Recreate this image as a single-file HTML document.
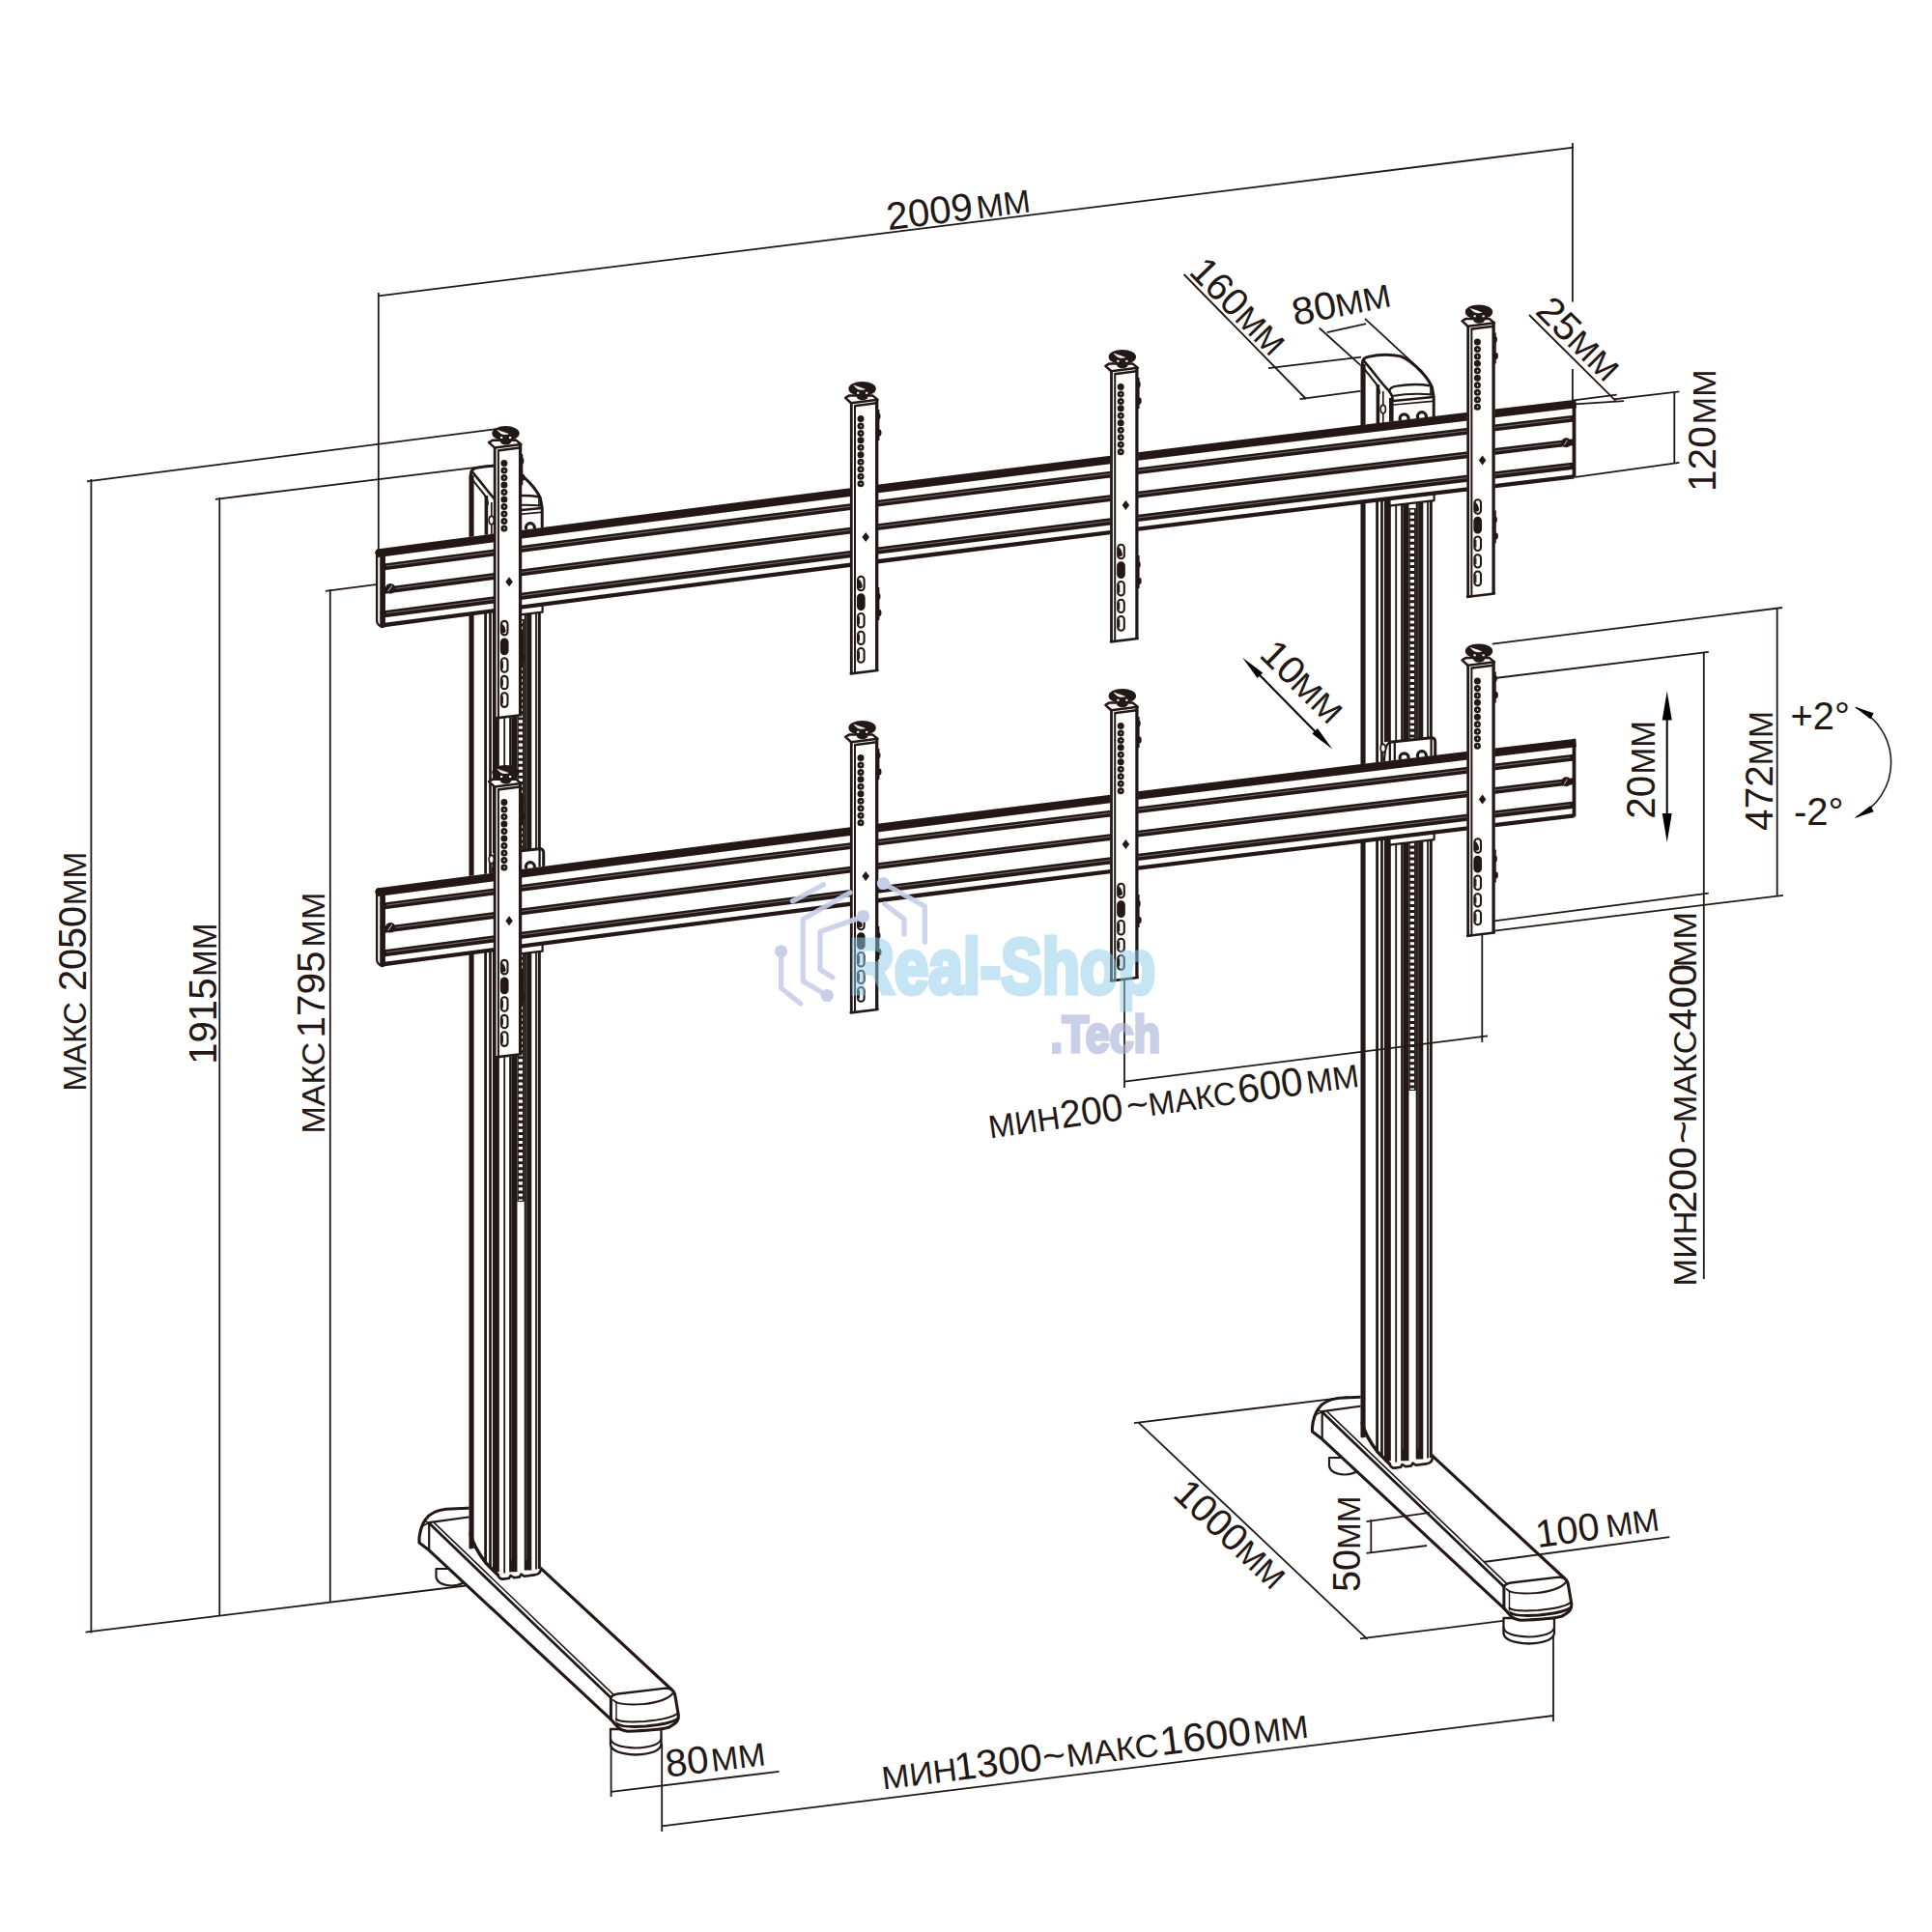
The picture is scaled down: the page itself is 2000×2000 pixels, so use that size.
<!DOCTYPE html>
<html><head><meta charset="utf-8"><title>Drawing</title>
<style>html,body{margin:0;padding:0;background:#fff}svg{display:block}</style></head>
<body>
<svg width="2000" height="2000" viewBox="0 0 2000 2000" font-family="'Liberation Sans', sans-serif">
<rect width="2000" height="2000" fill="#fff"/>
<g id="dims-back">
<line x1="391.8" y1="306.4" x2="1628.9" y2="152.7" stroke="#231815" stroke-width="1.8" stroke-linecap="butt"/>
<line x1="391.8" y1="303" x2="391.8" y2="568" stroke="#231815" stroke-width="1.8" stroke-linecap="butt"/>
<line x1="1627.9" y1="148" x2="1627.9" y2="312.5" stroke="#231815" stroke-width="1.8" stroke-linecap="butt"/>
<line x1="1627.9" y1="382" x2="1627.9" y2="416" stroke="#231815" stroke-width="1.8" stroke-linecap="butt"/>
<line x1="94.4" y1="496" x2="94.4" y2="1690.5" stroke="#231815" stroke-width="1.8" stroke-linecap="butt"/>
<line x1="227.3" y1="515" x2="227.3" y2="1673" stroke="#231815" stroke-width="1.8" stroke-linecap="butt"/>
<line x1="341.8" y1="610" x2="341.8" y2="1659" stroke="#231815" stroke-width="1.8" stroke-linecap="butt"/>
<line x1="90" y1="498.3" x2="514" y2="444.2" stroke="#231815" stroke-width="1.8" stroke-linecap="butt"/>
<line x1="223" y1="516.8" x2="505" y2="482.3" stroke="#231815" stroke-width="1.8" stroke-linecap="butt"/>
<line x1="337" y1="611.9" x2="391" y2="604.9" stroke="#231815" stroke-width="1.8" stroke-linecap="butt"/>
<line x1="88.5" y1="1689.7" x2="482" y2="1641.5" stroke="#231815" stroke-width="1.8" stroke-linecap="butt"/>
<line x1="1225.6" y1="284" x2="1352" y2="413" stroke="#231815" stroke-width="1.8" stroke-linecap="butt"/>
<line x1="1313" y1="381.2" x2="1409" y2="369.6" stroke="#231815" stroke-width="1.8" stroke-linecap="butt"/>
<line x1="1345.5" y1="413.2" x2="1425" y2="402.7" stroke="#231815" stroke-width="1.8" stroke-linecap="butt"/>
<line x1="1373.7" y1="344.1" x2="1414.1" y2="335.2" stroke="#231815" stroke-width="1.8" stroke-linecap="butt"/>
<line x1="1365.7" y1="339.5" x2="1411" y2="380.3" stroke="#231815" stroke-width="1.8" stroke-linecap="butt"/>
<line x1="1583" y1="326" x2="1672.5" y2="414.8" stroke="#231815" stroke-width="1.8" stroke-linecap="butt"/>
<line x1="1629" y1="414.3" x2="1673.7" y2="408.6" stroke="#231815" stroke-width="1.8" stroke-linecap="butt"/>
<line x1="1630" y1="418.3" x2="1681" y2="415.2" stroke="#231815" stroke-width="1.8" stroke-linecap="butt"/>
<line x1="1670" y1="413.4" x2="1738.5" y2="405.4" stroke="#231815" stroke-width="1.8" stroke-linecap="butt"/>
<line x1="1631" y1="493.8" x2="1738.5" y2="478.8" stroke="#231815" stroke-width="1.8" stroke-linecap="butt"/>
<line x1="1733.3" y1="406" x2="1733.3" y2="479.6" stroke="#231815" stroke-width="1.8" stroke-linecap="butt"/>
<line x1="1544.7" y1="666.7" x2="1845" y2="629" stroke="#231815" stroke-width="1.8" stroke-linecap="butt"/>
<line x1="1546.7" y1="963.7" x2="1846" y2="926.8" stroke="#231815" stroke-width="1.8" stroke-linecap="butt"/>
<line x1="1839.7" y1="629.5" x2="1839.7" y2="927.7" stroke="#231815" stroke-width="1.8" stroke-linecap="butt"/>
<line x1="1531.2" y1="704" x2="1768.8" y2="674.9" stroke="#231815" stroke-width="1.8" stroke-linecap="butt"/>
<line x1="1531.2" y1="955.4" x2="1768.8" y2="924.6" stroke="#231815" stroke-width="1.8" stroke-linecap="butt"/>
<line x1="1763.8" y1="675.3" x2="1763.8" y2="1324" stroke="#231815" stroke-width="1.8" stroke-linecap="butt"/>
<line x1="1164" y1="1010" x2="1164" y2="1126" stroke="#231815" stroke-width="1.8" stroke-linecap="butt"/>
<line x1="1534.3" y1="966" x2="1534.3" y2="1079" stroke="#231815" stroke-width="1.8" stroke-linecap="butt"/>
<line x1="1178.6" y1="1472.6" x2="1415.5" y2="1696.8" stroke="#231815" stroke-width="1.8" stroke-linecap="butt"/>
<line x1="1174" y1="1473.2" x2="1396" y2="1446.2" stroke="#231815" stroke-width="1.8" stroke-linecap="butt"/>
<line x1="1408" y1="1696.3" x2="1608" y2="1671.4" stroke="#231815" stroke-width="1.8" stroke-linecap="butt"/>
<line x1="1419.3" y1="1573" x2="1419.3" y2="1607.5" stroke="#231815" stroke-width="1.8" stroke-linecap="butt"/>
<line x1="1414.5" y1="1607.8" x2="1477" y2="1600" stroke="#231815" stroke-width="1.8" stroke-linecap="butt"/>
<line x1="632.6" y1="1805" x2="632.6" y2="1860" stroke="#231815" stroke-width="1.8" stroke-linecap="butt"/>
<line x1="685.2" y1="1805" x2="685.2" y2="1896" stroke="#231815" stroke-width="1.8" stroke-linecap="butt"/>
<line x1="632.6" y1="1854.8" x2="806.5" y2="1833.9" stroke="#231815" stroke-width="1.8" stroke-linecap="butt"/>
<line x1="685.2" y1="1890.4" x2="1608.3" y2="1776" stroke="#231815" stroke-width="1.8" stroke-linecap="butt"/>
<line x1="1608" y1="1688" x2="1608" y2="1782" stroke="#231815" stroke-width="1.8" stroke-linecap="butt"/>
</g>
<g transform="translate(0,0)">
<path d="M1376,1509 L1376,1518 Q1378,1526 1392,1526.5 Q1406,1526 1408,1518 L1408,1509 Z" fill="#fff" stroke="#231815" stroke-width="2.2" stroke-linejoin="round" stroke-linecap="round"/>
<path d="M1556.5,1675 L1556.5,1691 Q1558,1700.5 1582.5,1701.5 Q1607,1700.5 1609,1691 L1609,1675 Z" fill="#fff" stroke="#231815" stroke-width="2.3" stroke-linejoin="round" stroke-linecap="round"/>
<path d="M1556.5,1685 Q1558,1693.5 1582.5,1694.5 Q1607,1693.5 1609,1685" fill="none" stroke="#231815" stroke-width="2" stroke-linejoin="round" stroke-linecap="round"/>
<path d="M1358.5,1482 L1358.5,1477 Q1360,1465 1365,1458 Q1371,1449 1386,1447.3 L1424,1445.5 L1484.2,1508.4 L1617,1631.5 Q1622.5,1635 1623.5,1641 L1626.8,1660.3 Q1627,1667 1622,1670 L1616.5,1673.3 Q1604,1676.5 1574,1677.2 Q1567,1676 1564.4,1673.3 L1556.9,1664.9 L1368.7,1489.8 Z" fill="#fff" stroke="#231815" stroke-width="3.1" stroke-linejoin="round" stroke-linecap="round"/>
<path d="M1368.7,1461.2 L1424,1453.5" fill="none" stroke="#231815" stroke-width="2.2" stroke-linejoin="round" stroke-linecap="round"/>
<path d="M1368.7,1462 L1368.7,1489.2" fill="none" stroke="#231815" stroke-width="2.2" stroke-linejoin="round" stroke-linecap="round"/>
<path d="M1361,1465 L1368.7,1461.5 M1363.5,1459.5 L1368.7,1461.5" fill="none" stroke="#231815" stroke-width="1.4" stroke-linejoin="round" stroke-linecap="round"/>
<path d="M1368.7,1461.8 L1556.9,1642.6" fill="none" stroke="#231815" stroke-width="2.8" stroke-linejoin="round" stroke-linecap="round"/>
<path d="M1374.2,1461.6 L1560.5,1640.2" fill="none" stroke="#231815" stroke-width="1.6" stroke-linejoin="round" stroke-linecap="round"/>
<path d="M1556.9,1642 L1556.9,1665" fill="none" stroke="#231815" stroke-width="3" stroke-linejoin="round" stroke-linecap="round"/>
<path d="M1556.9,1642.6 Q1558,1639.5 1564,1638.5 L1613.5,1632.6 Q1619,1632.6 1622.4,1637" fill="none" stroke="#231815" stroke-width="2.4" stroke-linejoin="round" stroke-linecap="round"/>
<path d="M1559.5,1645 Q1564,1651 1591,1649 Q1614,1646.5 1621,1638" fill="none" stroke="#231815" stroke-width="2" stroke-linejoin="round" stroke-linecap="round"/>
<path d="M1562.5,1664.5 Q1566,1668.5 1592,1667 Q1619,1664.5 1625.5,1659" fill="none" stroke="#231815" stroke-width="2" stroke-linejoin="round" stroke-linecap="round"/>
<path d="M1563.5,1669.5 Q1568,1673.5 1593,1672 Q1619,1669.5 1626.5,1664" fill="none" stroke="#231815" stroke-width="3" stroke-linejoin="round" stroke-linecap="round"/>
<path d="M1562.5,1647 L1562.5,1667" fill="none" stroke="#231815" stroke-width="1.4" stroke-linejoin="round" stroke-linecap="round"/>
</g>
<g transform="translate(0,0)">
<polygon points="1408.5,376 1414,369.5 1438,366.3 1449.5,368.6 1471,384.5 1482.5,401 1485.6,412 1485.6,450 1482.6,450 1482.6,1513 1440,1519.5 1408.6,1487" fill="#fff" stroke="none" stroke-width="0" stroke-linejoin="round"/>
<path d="M1410.3,1487 L1410.3,376.5 Q1410.3,370.3 1416.2,369.4 Q1434,365.2 1450,368.9 Q1458,371.5 1471.2,384.6 Q1478.8,392.6 1482.4,400.8 L1484.2,411 L1484.2,450" fill="none" stroke="#231815" stroke-width="3" stroke-linejoin="round" stroke-linecap="round"/>
<line x1="1411.1" y1="377" x2="1411.1" y2="1488" stroke="#231815" stroke-width="5" stroke-linecap="butt"/>
<path d="M1412.6,374.3 Q1420,383 1425.5,390.2 T1438,404.8 Q1441.3,408.5 1441.6,414" fill="none" stroke="#231815" stroke-width="2.6" stroke-linejoin="round" stroke-linecap="round"/>
<path d="M1411,380.3 Q1418,389 1424.4,397 Q1427.6,401 1428,407" fill="none" stroke="#231815" stroke-width="2" stroke-linejoin="round" stroke-linecap="round"/>
<path d="M1438.3,404.6 Q1439,400.5 1446,399.6 Q1464,396.6 1480.4,399.2" fill="none" stroke="#231815" stroke-width="2.4" stroke-linejoin="round" stroke-linecap="round"/>
<path d="M1442.6,409.8 Q1462,406.4 1483.5,408.6" fill="none" stroke="#231815" stroke-width="2" stroke-linejoin="round" stroke-linecap="round"/>
<path d="M1442.6,415 L1483.6,411" fill="none" stroke="#231815" stroke-width="2.4" stroke-linejoin="round" stroke-linecap="round"/>
<path d="M1442.8,419 L1482.6,415.4" fill="none" stroke="#231815" stroke-width="1.6" stroke-linejoin="round" stroke-linecap="round"/>
<line x1="1481" y1="399.5" x2="1481" y2="409.5" stroke="#231815" stroke-width="1.7" stroke-linecap="butt"/>
<line x1="1426.4" y1="398" x2="1426.4" y2="452" stroke="#231815" stroke-width="3.6" stroke-linecap="butt"/>
<line x1="1431.8" y1="405" x2="1431.8" y2="452" stroke="#231815" stroke-width="1.7" stroke-linecap="butt"/>
<line x1="1440.3" y1="412" x2="1440.3" y2="452" stroke="#231815" stroke-width="4.6" stroke-linecap="butt"/>
<line x1="1425.6" y1="452" x2="1425.6" y2="1501.5" stroke="#231815" stroke-width="2.8" stroke-linecap="butt"/>
<line x1="1430.5" y1="452" x2="1430.5" y2="1506.4" stroke="#231815" stroke-width="2.7" stroke-linecap="butt"/>
<line x1="1436.4" y1="452" x2="1436.4" y2="1512.3" stroke="#231815" stroke-width="6.9" stroke-linecap="butt"/>
<line x1="1445.2" y1="452" x2="1445.2" y2="1513.4" stroke="#231815" stroke-width="1.8" stroke-linecap="butt"/>
<line x1="1454.3" y1="452" x2="1454.3" y2="1512.3" stroke="#231815" stroke-width="8.3" stroke-linecap="butt"/>
<line x1="1469.5" y1="452" x2="1469.5" y2="1510.5" stroke="#231815" stroke-width="7.6" stroke-linecap="butt"/>
<line x1="1478" y1="452" x2="1478" y2="1509.4" stroke="#231815" stroke-width="1.8" stroke-linecap="butt"/>
<line x1="1481.3" y1="452" x2="1481.3" y2="1509" stroke="#231815" stroke-width="3" stroke-linecap="butt"/>
<line x1="1452.6" y1="520" x2="1452.6" y2="1500" stroke="#fff" stroke-width="0.6" stroke-linecap="butt" opacity="0.4"/>
<line x1="1468" y1="520" x2="1468" y2="1500" stroke="#fff" stroke-width="0.6" stroke-linecap="butt" opacity="0.4"/>
<rect x="1458.4" y="526" width="7.4" height="603" fill="#231815"/>
<line x1="1461.9" y1="527.5" x2="1461.9" y2="1128" stroke="#fff" stroke-width="4.2" stroke-dasharray="3.1 2.95"/>
<line x1="1461.9" y1="544" x2="1461.9" y2="1128" stroke="#231815" stroke-width="4.2" stroke-dasharray="1.6 28.65"/>
<path d="M1410.1,1473 Q1413.1,1486 1426,1503 L1438.5,1515.5" fill="none" stroke="#231815" stroke-width="3.4" stroke-linejoin="round" stroke-linecap="round"/>
<path d="M1438.5,1515.5 Q1440,1520 1444,1519.6 L1450,1518.8 L1451.5,1516 L1455,1518.2 L1461,1517.4 L1462.5,1514.6 L1466,1516.8 L1476,1515.4 Q1482.4,1514.6 1482.7,1510" fill="none" stroke="#231815" stroke-width="2.6" stroke-linejoin="round" stroke-linecap="round"/>
<ellipse cx="1431.8" cy="423.6" rx="2.6" ry="4.2" fill="#fff" stroke="#231815" stroke-width="1.7"/>
<circle cx="1453.6" cy="433.4" r="4.5" fill="#fff" stroke="#231815" stroke-width="3.2"/>
<circle cx="1471.9" cy="431.2" r="4.5" fill="#fff" stroke="#231815" stroke-width="3.2"/>
<polygon points="1438.5,508.6 1484.6,502.6 1484.6,518.1 1438.5,523.6" fill="#fff" stroke="#231815" stroke-width="2.2" stroke-linejoin="round"/>
<polygon points="1432,768.5 1439,767.5 1482,763 1485.8,766 1485.8,800 1432,806" fill="#fff" stroke="none" stroke-width="0" stroke-linejoin="round"/>
<path d="M1438.6,768.3 L1481.5,763.7 Q1485.6,763.4 1485.7,768 L1485.7,798" fill="none" stroke="#231815" stroke-width="3" stroke-linejoin="round" stroke-linecap="round"/>
<path d="M1432.6,798 Q1432.8,769.5 1438.8,768.3 L1438.8,798" fill="none" stroke="#231815" stroke-width="2.3" stroke-linejoin="round" stroke-linecap="round"/>
<line x1="1443.8" y1="769" x2="1443.8" y2="798" stroke="#231815" stroke-width="2.3" stroke-linecap="butt"/>
<line x1="1481.6" y1="764.5" x2="1481.6" y2="798" stroke="#231815" stroke-width="2.3" stroke-linecap="butt"/>
<ellipse cx="1431.8" cy="774.6" rx="2.6" ry="4.2" fill="#fff" stroke="#231815" stroke-width="1.7"/>
<circle cx="1453.6" cy="784.4" r="4.5" fill="#fff" stroke="#231815" stroke-width="3.2"/>
<circle cx="1471.9" cy="782.2" r="4.5" fill="#fff" stroke="#231815" stroke-width="3.2"/>
<polygon points="1438.5,859.6 1484.6,853.6 1484.6,869.1 1438.5,874.6" fill="#fff" stroke="#231815" stroke-width="2.2" stroke-linejoin="round"/>
</g>
<line x1="1535.8" y1="1617" x2="1728.3" y2="1591.2" stroke="#231815" stroke-width="1.8" stroke-linecap="butt"/>
<g transform="translate(-924.5,115)">
<path d="M1376,1509 L1376,1518 Q1378,1526 1392,1526.5 Q1406,1526 1408,1518 L1408,1509 Z" fill="#fff" stroke="#231815" stroke-width="2.2" stroke-linejoin="round" stroke-linecap="round"/>
<path d="M1556.5,1675 L1556.5,1691 Q1558,1700.5 1582.5,1701.5 Q1607,1700.5 1609,1691 L1609,1675 Z" fill="#fff" stroke="#231815" stroke-width="2.3" stroke-linejoin="round" stroke-linecap="round"/>
<path d="M1556.5,1685 Q1558,1693.5 1582.5,1694.5 Q1607,1693.5 1609,1685" fill="none" stroke="#231815" stroke-width="2" stroke-linejoin="round" stroke-linecap="round"/>
<path d="M1358.5,1482 L1358.5,1477 Q1360,1465 1365,1458 Q1371,1449 1386,1447.3 L1424,1445.5 L1484.2,1508.4 L1617,1631.5 Q1622.5,1635 1623.5,1641 L1626.8,1660.3 Q1627,1667 1622,1670 L1616.5,1673.3 Q1604,1676.5 1574,1677.2 Q1567,1676 1564.4,1673.3 L1556.9,1664.9 L1368.7,1489.8 Z" fill="#fff" stroke="#231815" stroke-width="3.1" stroke-linejoin="round" stroke-linecap="round"/>
<path d="M1368.7,1461.2 L1424,1453.5" fill="none" stroke="#231815" stroke-width="2.2" stroke-linejoin="round" stroke-linecap="round"/>
<path d="M1368.7,1462 L1368.7,1489.2" fill="none" stroke="#231815" stroke-width="2.2" stroke-linejoin="round" stroke-linecap="round"/>
<path d="M1361,1465 L1368.7,1461.5 M1363.5,1459.5 L1368.7,1461.5" fill="none" stroke="#231815" stroke-width="1.4" stroke-linejoin="round" stroke-linecap="round"/>
<path d="M1368.7,1461.8 L1556.9,1642.6" fill="none" stroke="#231815" stroke-width="2.8" stroke-linejoin="round" stroke-linecap="round"/>
<path d="M1374.2,1461.6 L1560.5,1640.2" fill="none" stroke="#231815" stroke-width="1.6" stroke-linejoin="round" stroke-linecap="round"/>
<path d="M1556.9,1642 L1556.9,1665" fill="none" stroke="#231815" stroke-width="3" stroke-linejoin="round" stroke-linecap="round"/>
<path d="M1556.9,1642.6 Q1558,1639.5 1564,1638.5 L1613.5,1632.6 Q1619,1632.6 1622.4,1637" fill="none" stroke="#231815" stroke-width="2.4" stroke-linejoin="round" stroke-linecap="round"/>
<path d="M1559.5,1645 Q1564,1651 1591,1649 Q1614,1646.5 1621,1638" fill="none" stroke="#231815" stroke-width="2" stroke-linejoin="round" stroke-linecap="round"/>
<path d="M1562.5,1664.5 Q1566,1668.5 1592,1667 Q1619,1664.5 1625.5,1659" fill="none" stroke="#231815" stroke-width="2" stroke-linejoin="round" stroke-linecap="round"/>
<path d="M1563.5,1669.5 Q1568,1673.5 1593,1672 Q1619,1669.5 1626.5,1664" fill="none" stroke="#231815" stroke-width="3" stroke-linejoin="round" stroke-linecap="round"/>
<path d="M1562.5,1647 L1562.5,1667" fill="none" stroke="#231815" stroke-width="1.4" stroke-linejoin="round" stroke-linecap="round"/>
</g>
<g transform="translate(-923,115)">
<polygon points="1408.5,376 1414,369.5 1438,366.3 1449.5,368.6 1471,384.5 1482.5,401 1485.6,412 1485.6,450 1482.6,450 1482.6,1513 1440,1519.5 1408.6,1487" fill="#fff" stroke="none" stroke-width="0" stroke-linejoin="round"/>
<path d="M1410.3,1487 L1410.3,376.5 Q1410.3,370.3 1416.2,369.4 Q1434,365.2 1450,368.9 Q1458,371.5 1471.2,384.6 Q1478.8,392.6 1482.4,400.8 L1484.2,411 L1484.2,450" fill="none" stroke="#231815" stroke-width="3" stroke-linejoin="round" stroke-linecap="round"/>
<line x1="1411.1" y1="377" x2="1411.1" y2="1488" stroke="#231815" stroke-width="5" stroke-linecap="butt"/>
<path d="M1412.6,374.3 Q1420,383 1425.5,390.2 T1438,404.8 Q1441.3,408.5 1441.6,414" fill="none" stroke="#231815" stroke-width="2.6" stroke-linejoin="round" stroke-linecap="round"/>
<path d="M1411,380.3 Q1418,389 1424.4,397 Q1427.6,401 1428,407" fill="none" stroke="#231815" stroke-width="2" stroke-linejoin="round" stroke-linecap="round"/>
<path d="M1438.3,404.6 Q1439,400.5 1446,399.6 Q1464,396.6 1480.4,399.2" fill="none" stroke="#231815" stroke-width="2.4" stroke-linejoin="round" stroke-linecap="round"/>
<path d="M1442.6,409.8 Q1462,406.4 1483.5,408.6" fill="none" stroke="#231815" stroke-width="2" stroke-linejoin="round" stroke-linecap="round"/>
<path d="M1442.6,415 L1483.6,411" fill="none" stroke="#231815" stroke-width="2.4" stroke-linejoin="round" stroke-linecap="round"/>
<path d="M1442.8,419 L1482.6,415.4" fill="none" stroke="#231815" stroke-width="1.6" stroke-linejoin="round" stroke-linecap="round"/>
<line x1="1481" y1="399.5" x2="1481" y2="409.5" stroke="#231815" stroke-width="1.7" stroke-linecap="butt"/>
<line x1="1426.4" y1="398" x2="1426.4" y2="452" stroke="#231815" stroke-width="3.6" stroke-linecap="butt"/>
<line x1="1431.8" y1="405" x2="1431.8" y2="452" stroke="#231815" stroke-width="1.7" stroke-linecap="butt"/>
<line x1="1440.3" y1="412" x2="1440.3" y2="452" stroke="#231815" stroke-width="4.6" stroke-linecap="butt"/>
<line x1="1425.6" y1="452" x2="1425.6" y2="1501.5" stroke="#231815" stroke-width="2.8" stroke-linecap="butt"/>
<line x1="1430.5" y1="452" x2="1430.5" y2="1506.4" stroke="#231815" stroke-width="2.7" stroke-linecap="butt"/>
<line x1="1436.4" y1="452" x2="1436.4" y2="1512.3" stroke="#231815" stroke-width="6.9" stroke-linecap="butt"/>
<line x1="1445.2" y1="452" x2="1445.2" y2="1513.4" stroke="#231815" stroke-width="1.8" stroke-linecap="butt"/>
<line x1="1454.3" y1="452" x2="1454.3" y2="1512.3" stroke="#231815" stroke-width="8.3" stroke-linecap="butt"/>
<line x1="1469.5" y1="452" x2="1469.5" y2="1510.5" stroke="#231815" stroke-width="7.6" stroke-linecap="butt"/>
<line x1="1478" y1="452" x2="1478" y2="1509.4" stroke="#231815" stroke-width="1.8" stroke-linecap="butt"/>
<line x1="1481.3" y1="452" x2="1481.3" y2="1509" stroke="#231815" stroke-width="3" stroke-linecap="butt"/>
<line x1="1452.6" y1="520" x2="1452.6" y2="1500" stroke="#fff" stroke-width="0.6" stroke-linecap="butt" opacity="0.4"/>
<line x1="1468" y1="520" x2="1468" y2="1500" stroke="#fff" stroke-width="0.6" stroke-linecap="butt" opacity="0.4"/>
<rect x="1458.4" y="526" width="7.4" height="603" fill="#231815"/>
<line x1="1461.9" y1="527.5" x2="1461.9" y2="1128" stroke="#fff" stroke-width="4.2" stroke-dasharray="3.1 2.95"/>
<line x1="1461.9" y1="544" x2="1461.9" y2="1128" stroke="#231815" stroke-width="4.2" stroke-dasharray="1.6 28.65"/>
<path d="M1410.1,1473 Q1413.1,1486 1426,1503 L1438.5,1515.5" fill="none" stroke="#231815" stroke-width="3.4" stroke-linejoin="round" stroke-linecap="round"/>
<path d="M1438.5,1515.5 Q1440,1520 1444,1519.6 L1450,1518.8 L1451.5,1516 L1455,1518.2 L1461,1517.4 L1462.5,1514.6 L1466,1516.8 L1476,1515.4 Q1482.4,1514.6 1482.7,1510" fill="none" stroke="#231815" stroke-width="2.6" stroke-linejoin="round" stroke-linecap="round"/>
<ellipse cx="1431.8" cy="423.6" rx="2.6" ry="4.2" fill="#fff" stroke="#231815" stroke-width="1.7"/>
<circle cx="1453.6" cy="433.4" r="4.5" fill="#fff" stroke="#231815" stroke-width="3.2"/>
<circle cx="1471.9" cy="431.2" r="4.5" fill="#fff" stroke="#231815" stroke-width="3.2"/>
<polygon points="1438.5,509.1 1484.6,503.1 1484.6,518.6 1438.5,524.1" fill="#fff" stroke="#231815" stroke-width="2.2" stroke-linejoin="round"/>
<polygon points="1432,768.5 1439,767.5 1482,763 1485.8,766 1485.8,800 1432,806" fill="#fff" stroke="none" stroke-width="0" stroke-linejoin="round"/>
<path d="M1438.6,768.3 L1481.5,763.7 Q1485.6,763.4 1485.7,768 L1485.7,798" fill="none" stroke="#231815" stroke-width="3" stroke-linejoin="round" stroke-linecap="round"/>
<path d="M1432.6,798 Q1432.8,769.5 1438.8,768.3 L1438.8,798" fill="none" stroke="#231815" stroke-width="2.3" stroke-linejoin="round" stroke-linecap="round"/>
<line x1="1443.8" y1="769" x2="1443.8" y2="798" stroke="#231815" stroke-width="2.3" stroke-linecap="butt"/>
<line x1="1481.6" y1="764.5" x2="1481.6" y2="798" stroke="#231815" stroke-width="2.3" stroke-linecap="butt"/>
<ellipse cx="1431.8" cy="774.6" rx="2.6" ry="4.2" fill="#fff" stroke="#231815" stroke-width="1.7"/>
<circle cx="1453.6" cy="784.4" r="4.5" fill="#fff" stroke="#231815" stroke-width="3.2"/>
<circle cx="1471.9" cy="782.2" r="4.5" fill="#fff" stroke="#231815" stroke-width="3.2"/>
<polygon points="1438.5,860.1 1484.6,854.1 1484.6,869.6 1438.5,875.1" fill="#fff" stroke="#231815" stroke-width="2.2" stroke-linejoin="round"/>
</g>
<line x1="1414.5" y1="1575.2" x2="1480" y2="1565.9" stroke="#231815" stroke-width="1.8" stroke-linecap="butt"/>
<line x1="1413" y1="329.9" x2="1472.5" y2="384.8" stroke="#231815" stroke-width="1.8" stroke-linecap="butt"/>
<line x1="1164" y1="1119.7" x2="1540" y2="1072.4" stroke="#231815" stroke-width="1.8" stroke-linecap="butt"/>
<path d="M389,568.5 Q1009.8,486.9 1631,413.8 L1631,493.8 Q1009.8,567.2 396,649 L389,643.5 Z" fill="#fff"/>
<path d="M390.6,572.7 Q1011,491.1 1631.4,417.9" fill="none" stroke="#231815" stroke-width="8.6"/>
<path d="M389.1,573.5 Q389.1,569.3 393,569.3" fill="none" stroke="#231815" stroke-width="2"/>
<path d="M394,587.4 Q1011.8,506.1 1629.5,433.2" fill="none" stroke="#231815" stroke-width="6.8"/>
<path d="M394,611.9 Q1011.8,530.6 1629.5,457.7" fill="none" stroke="#231815" stroke-width="6.8"/>
<path d="M394,636.3 Q1011.8,555 1629.5,482.1" fill="none" stroke="#231815" stroke-width="7.2"/>
<path d="M394,647.5 Q1011.8,566.2 1629.5,493.3" fill="none" stroke="#231815" stroke-width="4.3"/>
<path d="M400,586 Q1012.8,505.4 1625.5,433.1" fill="none" stroke="#fff" stroke-width="0.7" opacity="0.55"/>
<path d="M400,610.5 Q1012.8,529.9 1625.5,457.6" fill="none" stroke="#fff" stroke-width="0.7" opacity="0.55"/>
<path d="M400,634.8 Q1012.8,554.2 1625.5,481.9" fill="none" stroke="#fff" stroke-width="0.7" opacity="0.55"/>
<path d="M390.1,570.5 L390.1,642.5 Q390.3,647.5 396,649.1" fill="none" stroke="#231815" stroke-width="2.3" stroke-linejoin="round" stroke-linecap="round"/>
<line x1="396.1" y1="572.5" x2="396.1" y2="649.3" stroke="#231815" stroke-width="5.7" stroke-linecap="butt"/>
<line x1="1629.5" y1="413.8" x2="1629.5" y2="494.4" stroke="#231815" stroke-width="3.8" stroke-linecap="butt"/>
<circle cx="404.2" cy="609.2" r="5.3" fill="#231815" stroke="none" stroke-width="0"/>
<line x1="401.6" y1="612.2" x2="405.8" y2="606.2" stroke="#fff" stroke-width="1" stroke-linecap="butt" opacity="0.85"/>
<circle cx="1621.3" cy="458.2" r="5" fill="#231815" stroke="none" stroke-width="0"/>
<line x1="1619.3" y1="460.6" x2="1622.5" y2="455.6" stroke="#fff" stroke-width="0.9" stroke-linecap="butt" opacity="0.85"/>
<path d="M389,919.5 Q1009.8,837.9 1631,764.8 L1631,844.8 Q1009.8,918.2 396,1000 L389,994.5 Z" fill="#fff"/>
<path d="M390.6,923.7 Q1011,842.1 1631.4,768.9" fill="none" stroke="#231815" stroke-width="8.6"/>
<path d="M389.1,924.5 Q389.1,920.3 393,920.3" fill="none" stroke="#231815" stroke-width="2"/>
<path d="M394,938.4 Q1011.8,857.1 1629.5,784.2" fill="none" stroke="#231815" stroke-width="6.8"/>
<path d="M394,962.9 Q1011.8,881.6 1629.5,808.7" fill="none" stroke="#231815" stroke-width="6.8"/>
<path d="M394,987.3 Q1011.8,906 1629.5,833.1" fill="none" stroke="#231815" stroke-width="7.2"/>
<path d="M394,998.5 Q1011.8,917.2 1629.5,844.3" fill="none" stroke="#231815" stroke-width="4.3"/>
<path d="M400,937 Q1012.8,856.4 1625.5,784.1" fill="none" stroke="#fff" stroke-width="0.7" opacity="0.55"/>
<path d="M400,961.5 Q1012.8,880.9 1625.5,808.6" fill="none" stroke="#fff" stroke-width="0.7" opacity="0.55"/>
<path d="M400,985.8 Q1012.8,905.2 1625.5,832.9" fill="none" stroke="#fff" stroke-width="0.7" opacity="0.55"/>
<path d="M390.1,921.5 L390.1,993.5 Q390.3,998.5 396,1000.1" fill="none" stroke="#231815" stroke-width="2.3" stroke-linejoin="round" stroke-linecap="round"/>
<line x1="396.1" y1="923.5" x2="396.1" y2="1000.3" stroke="#231815" stroke-width="5.7" stroke-linecap="butt"/>
<line x1="1629.5" y1="764.8" x2="1629.5" y2="845.4" stroke="#231815" stroke-width="3.8" stroke-linecap="butt"/>
<circle cx="404.2" cy="960.2" r="5.3" fill="#231815" stroke="none" stroke-width="0"/>
<line x1="401.6" y1="963.2" x2="405.8" y2="957.2" stroke="#fff" stroke-width="1" stroke-linecap="butt" opacity="0.85"/>
<circle cx="1621.3" cy="809.2" r="5" fill="#231815" stroke="none" stroke-width="0"/>
<line x1="1619.3" y1="811.6" x2="1622.5" y2="806.6" stroke="#fff" stroke-width="0.9" stroke-linecap="butt" opacity="0.85"/>
<polygon points="511.2,462.2 539.8,459.2 539.8,741.3 511.2,744.6" fill="#fff" stroke="none" stroke-width="0" stroke-linejoin="round"/>
<ellipse cx="540.3" cy="477.2" rx="2.1" ry="3.4" fill="#231815" stroke="none" stroke-width="0"/>
<ellipse cx="541.3" cy="494.2" rx="2.1" ry="3.4" fill="#231815" stroke="none" stroke-width="0"/>
<ellipse cx="540.3" cy="663.7" rx="2.1" ry="3.4" fill="#231815" stroke="none" stroke-width="0"/>
<ellipse cx="541.3" cy="680.7" rx="2.1" ry="3.4" fill="#231815" stroke="none" stroke-width="0"/>
<line x1="540.5" y1="470.2" x2="540.5" y2="502.2" stroke="#231815" stroke-width="1.6" stroke-linecap="butt"/>
<line x1="540.5" y1="654.2" x2="540.5" y2="688.2" stroke="#231815" stroke-width="1.6" stroke-linecap="butt"/>
<polygon points="506.1,458.1 509.8,455.8 534.1,455.6 539.4,460 512,463.4" fill="#fff" stroke="#231815" stroke-width="2.5" stroke-linejoin="round"/>
<ellipse cx="523.6" cy="457.1" rx="5.8" ry="3.4" fill="#231815" stroke="none" stroke-width="0"/>
<ellipse cx="523.5" cy="448.6" rx="14.2" ry="7.5" fill="#231815" stroke="none" stroke-width="0"/>
<path d="M515.2,445.4 Q520.2,446.8 526.2,449.2 Q518.8,451 515.2,445.4 Z" fill="#fff" stroke="#fff" stroke-width="0.6" stroke-linejoin="round" stroke-linecap="round"/>
<rect x="518" y="452" width="2.2" height="2" fill="#fff"/>
<rect x="527" y="452" width="2.2" height="2" fill="#fff"/>
<line x1="512.2" y1="463.2" x2="512.2" y2="743.6" stroke="#231815" stroke-width="2.8" stroke-linecap="butt"/>
<line x1="515.9" y1="465.7" x2="515.9" y2="743.2" stroke="#231815" stroke-width="2" stroke-linecap="butt"/>
<line x1="538.6" y1="460.2" x2="538.6" y2="740.3" stroke="#231815" stroke-width="3.3" stroke-linecap="butt"/>
<line x1="515.2" y1="466.4" x2="538.2" y2="463.5" stroke="#231815" stroke-width="2.5" stroke-linecap="butt"/>
<line x1="511.6" y1="743.6" x2="539.4" y2="740.2" stroke="#231815" stroke-width="2.6" stroke-linecap="round"/>
<circle cx="521.9" cy="479.6" r="3.5" fill="#231815" stroke="none" stroke-width="0"/>
<circle cx="521.9" cy="487.1" r="3.5" fill="#231815" stroke="none" stroke-width="0"/>
<circle cx="522.1" cy="487.2" r="0.8" fill="#fff" stroke="none" stroke-width="0"/>
<circle cx="521.9" cy="494.6" r="3.5" fill="#231815" stroke="none" stroke-width="0"/>
<circle cx="522.1" cy="494.7" r="0.8" fill="#fff" stroke="none" stroke-width="0"/>
<circle cx="521.9" cy="502" r="3.5" fill="#231815" stroke="none" stroke-width="0"/>
<circle cx="521.9" cy="509.5" r="3.5" fill="#231815" stroke="none" stroke-width="0"/>
<circle cx="522.1" cy="509.6" r="0.8" fill="#fff" stroke="none" stroke-width="0"/>
<circle cx="521.9" cy="517" r="3.5" fill="#231815" stroke="none" stroke-width="0"/>
<circle cx="521.9" cy="524.5" r="3.5" fill="#231815" stroke="none" stroke-width="0"/>
<circle cx="522.1" cy="524.6" r="0.8" fill="#fff" stroke="none" stroke-width="0"/>
<circle cx="521.9" cy="532" r="3.5" fill="#231815" stroke="none" stroke-width="0"/>
<circle cx="522.1" cy="532.1" r="0.8" fill="#fff" stroke="none" stroke-width="0"/>
<circle cx="521.9" cy="539.4" r="3.5" fill="#231815" stroke="none" stroke-width="0"/>
<circle cx="522.1" cy="539.5" r="0.8" fill="#fff" stroke="none" stroke-width="0"/>
<circle cx="521.9" cy="546.9" r="3.5" fill="#231815" stroke="none" stroke-width="0"/>
<circle cx="522.1" cy="547" r="0.8" fill="#fff" stroke="none" stroke-width="0"/>
<polygon points="527.1,597.2 530.9,602.2 527.1,607.2 523.3,602.2" fill="#231815" stroke="none" stroke-width="0" stroke-linejoin="round"/>
<rect x="518.9" y="642.9" width="6.6" height="14.5" rx="3.3" fill="#fff" stroke="#231815" stroke-width="2.1"/>
<path d="M519.5,654.8 v-9 q3.4,1.5 4.2,8 q-1.6,2.6 -4.2,1 z" fill="#231815"/>
<rect x="518.9" y="661.6" width="6.6" height="15.5" rx="3.3" fill="#231815" stroke="#231815" stroke-width="2.1"/>
<rect x="518.9" y="681.2" width="6.6" height="14.5" rx="3.3" fill="#fff" stroke="#231815" stroke-width="2.1"/>
<line x1="520.3" y1="684.6" x2="520.3" y2="692.3" stroke="#231815" stroke-width="1.3" stroke-linecap="butt"/>
<rect x="518.9" y="699.9" width="6.6" height="13.3" rx="3.3" fill="#fff" stroke="#231815" stroke-width="2.1"/>
<line x1="520.3" y1="703.3" x2="520.3" y2="709.8" stroke="#231815" stroke-width="1.3" stroke-linecap="butt"/>
<rect x="518.9" y="717.2" width="6.6" height="14.7" rx="3.3" fill="#fff" stroke="#231815" stroke-width="2.1"/>
<line x1="520.3" y1="720.6" x2="520.3" y2="728.5" stroke="#231815" stroke-width="1.3" stroke-linecap="butt"/>
<polygon points="511.2,813.2 539.8,810.2 539.8,1092.3 511.2,1095.6" fill="#fff" stroke="none" stroke-width="0" stroke-linejoin="round"/>
<ellipse cx="540.3" cy="828.2" rx="2.1" ry="3.4" fill="#231815" stroke="none" stroke-width="0"/>
<ellipse cx="541.3" cy="845.2" rx="2.1" ry="3.4" fill="#231815" stroke="none" stroke-width="0"/>
<ellipse cx="540.3" cy="1014.7" rx="2.1" ry="3.4" fill="#231815" stroke="none" stroke-width="0"/>
<ellipse cx="541.3" cy="1031.7" rx="2.1" ry="3.4" fill="#231815" stroke="none" stroke-width="0"/>
<line x1="540.5" y1="821.2" x2="540.5" y2="853.2" stroke="#231815" stroke-width="1.6" stroke-linecap="butt"/>
<line x1="540.5" y1="1005.2" x2="540.5" y2="1039.2" stroke="#231815" stroke-width="1.6" stroke-linecap="butt"/>
<polygon points="506.1,809.1 509.8,806.8 534.1,806.6 539.4,811 512,814.4" fill="#fff" stroke="#231815" stroke-width="2.5" stroke-linejoin="round"/>
<ellipse cx="523.6" cy="808.1" rx="5.8" ry="3.4" fill="#231815" stroke="none" stroke-width="0"/>
<ellipse cx="523.5" cy="799.6" rx="14.2" ry="7.5" fill="#231815" stroke="none" stroke-width="0"/>
<path d="M515.2,796.4 Q520.2,797.8 526.2,800.2 Q518.8,802 515.2,796.4 Z" fill="#fff" stroke="#fff" stroke-width="0.6" stroke-linejoin="round" stroke-linecap="round"/>
<rect x="518" y="803" width="2.2" height="2" fill="#fff"/>
<rect x="527" y="803" width="2.2" height="2" fill="#fff"/>
<line x1="512.2" y1="814.2" x2="512.2" y2="1094.6" stroke="#231815" stroke-width="2.8" stroke-linecap="butt"/>
<line x1="515.9" y1="816.7" x2="515.9" y2="1094.2" stroke="#231815" stroke-width="2" stroke-linecap="butt"/>
<line x1="538.6" y1="811.2" x2="538.6" y2="1091.3" stroke="#231815" stroke-width="3.3" stroke-linecap="butt"/>
<line x1="515.2" y1="817.4" x2="538.2" y2="814.5" stroke="#231815" stroke-width="2.5" stroke-linecap="butt"/>
<line x1="511.6" y1="1094.6" x2="539.4" y2="1091.2" stroke="#231815" stroke-width="2.6" stroke-linecap="round"/>
<circle cx="521.9" cy="830.6" r="3.5" fill="#231815" stroke="none" stroke-width="0"/>
<circle cx="521.9" cy="838.1" r="3.5" fill="#231815" stroke="none" stroke-width="0"/>
<circle cx="522.1" cy="838.2" r="0.8" fill="#fff" stroke="none" stroke-width="0"/>
<circle cx="521.9" cy="845.6" r="3.5" fill="#231815" stroke="none" stroke-width="0"/>
<circle cx="522.1" cy="845.7" r="0.8" fill="#fff" stroke="none" stroke-width="0"/>
<circle cx="521.9" cy="853" r="3.5" fill="#231815" stroke="none" stroke-width="0"/>
<circle cx="521.9" cy="860.5" r="3.5" fill="#231815" stroke="none" stroke-width="0"/>
<circle cx="522.1" cy="860.6" r="0.8" fill="#fff" stroke="none" stroke-width="0"/>
<circle cx="521.9" cy="868" r="3.5" fill="#231815" stroke="none" stroke-width="0"/>
<circle cx="521.9" cy="875.5" r="3.5" fill="#231815" stroke="none" stroke-width="0"/>
<circle cx="522.1" cy="875.6" r="0.8" fill="#fff" stroke="none" stroke-width="0"/>
<circle cx="521.9" cy="883" r="3.5" fill="#231815" stroke="none" stroke-width="0"/>
<circle cx="522.1" cy="883.1" r="0.8" fill="#fff" stroke="none" stroke-width="0"/>
<circle cx="521.9" cy="890.4" r="3.5" fill="#231815" stroke="none" stroke-width="0"/>
<circle cx="522.1" cy="890.5" r="0.8" fill="#fff" stroke="none" stroke-width="0"/>
<circle cx="521.9" cy="897.9" r="3.5" fill="#231815" stroke="none" stroke-width="0"/>
<circle cx="522.1" cy="898" r="0.8" fill="#fff" stroke="none" stroke-width="0"/>
<polygon points="527.1,948.2 530.9,953.2 527.1,958.2 523.3,953.2" fill="#231815" stroke="none" stroke-width="0" stroke-linejoin="round"/>
<rect x="518.9" y="993.9" width="6.6" height="14.5" rx="3.3" fill="#fff" stroke="#231815" stroke-width="2.1"/>
<path d="M519.5,1005.8 v-9 q3.4,1.5 4.2,8 q-1.6,2.6 -4.2,1 z" fill="#231815"/>
<rect x="518.9" y="1012.6" width="6.6" height="15.5" rx="3.3" fill="#231815" stroke="#231815" stroke-width="2.1"/>
<rect x="518.9" y="1032.2" width="6.6" height="14.5" rx="3.3" fill="#fff" stroke="#231815" stroke-width="2.1"/>
<line x1="520.3" y1="1035.6" x2="520.3" y2="1043.3" stroke="#231815" stroke-width="1.3" stroke-linecap="butt"/>
<rect x="518.9" y="1050.9" width="6.6" height="13.3" rx="3.3" fill="#fff" stroke="#231815" stroke-width="2.1"/>
<line x1="520.3" y1="1054.3" x2="520.3" y2="1060.8" stroke="#231815" stroke-width="1.3" stroke-linecap="butt"/>
<rect x="518.9" y="1068.2" width="6.6" height="14.7" rx="3.3" fill="#fff" stroke="#231815" stroke-width="2.1"/>
<line x1="520.3" y1="1071.6" x2="520.3" y2="1079.5" stroke="#231815" stroke-width="1.3" stroke-linecap="butt"/>
<polygon points="880.3,416 908.9,413 908.9,695.1 880.3,698.4" fill="#fff" stroke="none" stroke-width="0" stroke-linejoin="round"/>
<ellipse cx="909.4" cy="431" rx="2.1" ry="3.4" fill="#231815" stroke="none" stroke-width="0"/>
<ellipse cx="910.4" cy="448" rx="2.1" ry="3.4" fill="#231815" stroke="none" stroke-width="0"/>
<ellipse cx="909.4" cy="617.5" rx="2.1" ry="3.4" fill="#231815" stroke="none" stroke-width="0"/>
<ellipse cx="910.4" cy="634.5" rx="2.1" ry="3.4" fill="#231815" stroke="none" stroke-width="0"/>
<line x1="909.6" y1="424" x2="909.6" y2="456" stroke="#231815" stroke-width="1.6" stroke-linecap="butt"/>
<line x1="909.6" y1="608" x2="909.6" y2="642" stroke="#231815" stroke-width="1.6" stroke-linecap="butt"/>
<polygon points="875.2,411.9 878.9,409.6 903.2,409.4 908.5,413.8 881.1,417.2" fill="#fff" stroke="#231815" stroke-width="2.5" stroke-linejoin="round"/>
<ellipse cx="892.7" cy="410.9" rx="5.8" ry="3.4" fill="#231815" stroke="none" stroke-width="0"/>
<ellipse cx="892.6" cy="402.4" rx="14.2" ry="7.5" fill="#231815" stroke="none" stroke-width="0"/>
<path d="M884.3,399.2 Q889.3,400.6 895.3,403 Q887.9,404.8 884.3,399.2 Z" fill="#fff" stroke="#fff" stroke-width="0.6" stroke-linejoin="round" stroke-linecap="round"/>
<rect x="887.1" y="405.8" width="2.2" height="2" fill="#fff"/>
<rect x="896.1" y="405.8" width="2.2" height="2" fill="#fff"/>
<line x1="881.3" y1="417" x2="881.3" y2="697.4" stroke="#231815" stroke-width="2.8" stroke-linecap="butt"/>
<line x1="885" y1="419.5" x2="885" y2="697" stroke="#231815" stroke-width="2" stroke-linecap="butt"/>
<line x1="907.7" y1="414" x2="907.7" y2="694.1" stroke="#231815" stroke-width="3.3" stroke-linecap="butt"/>
<line x1="884.3" y1="420.2" x2="907.3" y2="417.3" stroke="#231815" stroke-width="2.5" stroke-linecap="butt"/>
<line x1="880.7" y1="697.4" x2="908.5" y2="694" stroke="#231815" stroke-width="2.6" stroke-linecap="round"/>
<circle cx="891" cy="433.4" r="3.5" fill="#231815" stroke="none" stroke-width="0"/>
<circle cx="891" cy="440.9" r="3.5" fill="#231815" stroke="none" stroke-width="0"/>
<circle cx="891.2" cy="441" r="0.8" fill="#fff" stroke="none" stroke-width="0"/>
<circle cx="891" cy="448.4" r="3.5" fill="#231815" stroke="none" stroke-width="0"/>
<circle cx="891.2" cy="448.5" r="0.8" fill="#fff" stroke="none" stroke-width="0"/>
<circle cx="891" cy="455.8" r="3.5" fill="#231815" stroke="none" stroke-width="0"/>
<circle cx="891" cy="463.3" r="3.5" fill="#231815" stroke="none" stroke-width="0"/>
<circle cx="891.2" cy="463.4" r="0.8" fill="#fff" stroke="none" stroke-width="0"/>
<circle cx="891" cy="470.8" r="3.5" fill="#231815" stroke="none" stroke-width="0"/>
<circle cx="891" cy="478.3" r="3.5" fill="#231815" stroke="none" stroke-width="0"/>
<circle cx="891.2" cy="478.4" r="0.8" fill="#fff" stroke="none" stroke-width="0"/>
<circle cx="891" cy="485.8" r="3.5" fill="#231815" stroke="none" stroke-width="0"/>
<circle cx="891.2" cy="485.9" r="0.8" fill="#fff" stroke="none" stroke-width="0"/>
<circle cx="891" cy="493.2" r="3.5" fill="#231815" stroke="none" stroke-width="0"/>
<circle cx="891.2" cy="493.3" r="0.8" fill="#fff" stroke="none" stroke-width="0"/>
<circle cx="891" cy="500.7" r="3.5" fill="#231815" stroke="none" stroke-width="0"/>
<circle cx="891.2" cy="500.8" r="0.8" fill="#fff" stroke="none" stroke-width="0"/>
<polygon points="896.2,551 900,556 896.2,561 892.4,556" fill="#231815" stroke="none" stroke-width="0" stroke-linejoin="round"/>
<rect x="888" y="596.7" width="6.6" height="14.5" rx="3.3" fill="#fff" stroke="#231815" stroke-width="2.1"/>
<path d="M888.6,608.6 v-9 q3.4,1.5 4.2,8 q-1.6,2.6 -4.2,1 z" fill="#231815"/>
<rect x="888" y="615.4" width="6.6" height="15.5" rx="3.3" fill="#231815" stroke="#231815" stroke-width="2.1"/>
<rect x="888" y="635" width="6.6" height="14.5" rx="3.3" fill="#fff" stroke="#231815" stroke-width="2.1"/>
<line x1="889.4" y1="638.4" x2="889.4" y2="646.1" stroke="#231815" stroke-width="1.3" stroke-linecap="butt"/>
<rect x="888" y="653.7" width="6.6" height="13.3" rx="3.3" fill="#fff" stroke="#231815" stroke-width="2.1"/>
<line x1="889.4" y1="657.1" x2="889.4" y2="663.6" stroke="#231815" stroke-width="1.3" stroke-linecap="butt"/>
<rect x="888" y="671" width="6.6" height="14.7" rx="3.3" fill="#fff" stroke="#231815" stroke-width="2.1"/>
<line x1="889.4" y1="674.4" x2="889.4" y2="682.3" stroke="#231815" stroke-width="1.3" stroke-linecap="butt"/>
<polygon points="880.3,767 908.9,764 908.9,1046.1 880.3,1049.4" fill="#fff" stroke="none" stroke-width="0" stroke-linejoin="round"/>
<ellipse cx="909.4" cy="782" rx="2.1" ry="3.4" fill="#231815" stroke="none" stroke-width="0"/>
<ellipse cx="910.4" cy="799" rx="2.1" ry="3.4" fill="#231815" stroke="none" stroke-width="0"/>
<ellipse cx="909.4" cy="968.5" rx="2.1" ry="3.4" fill="#231815" stroke="none" stroke-width="0"/>
<ellipse cx="910.4" cy="985.5" rx="2.1" ry="3.4" fill="#231815" stroke="none" stroke-width="0"/>
<line x1="909.6" y1="775" x2="909.6" y2="807" stroke="#231815" stroke-width="1.6" stroke-linecap="butt"/>
<line x1="909.6" y1="959" x2="909.6" y2="993" stroke="#231815" stroke-width="1.6" stroke-linecap="butt"/>
<polygon points="875.2,762.9 878.9,760.6 903.2,760.4 908.5,764.8 881.1,768.2" fill="#fff" stroke="#231815" stroke-width="2.5" stroke-linejoin="round"/>
<ellipse cx="892.7" cy="761.9" rx="5.8" ry="3.4" fill="#231815" stroke="none" stroke-width="0"/>
<ellipse cx="892.6" cy="753.4" rx="14.2" ry="7.5" fill="#231815" stroke="none" stroke-width="0"/>
<path d="M884.3,750.2 Q889.3,751.6 895.3,754 Q887.9,755.8 884.3,750.2 Z" fill="#fff" stroke="#fff" stroke-width="0.6" stroke-linejoin="round" stroke-linecap="round"/>
<rect x="887.1" y="756.8" width="2.2" height="2" fill="#fff"/>
<rect x="896.1" y="756.8" width="2.2" height="2" fill="#fff"/>
<line x1="881.3" y1="768" x2="881.3" y2="1048.4" stroke="#231815" stroke-width="2.8" stroke-linecap="butt"/>
<line x1="885" y1="770.5" x2="885" y2="1048" stroke="#231815" stroke-width="2" stroke-linecap="butt"/>
<line x1="907.7" y1="765" x2="907.7" y2="1045.1" stroke="#231815" stroke-width="3.3" stroke-linecap="butt"/>
<line x1="884.3" y1="771.2" x2="907.3" y2="768.3" stroke="#231815" stroke-width="2.5" stroke-linecap="butt"/>
<line x1="880.7" y1="1048.4" x2="908.5" y2="1045" stroke="#231815" stroke-width="2.6" stroke-linecap="round"/>
<circle cx="891" cy="784.4" r="3.5" fill="#231815" stroke="none" stroke-width="0"/>
<circle cx="891" cy="791.9" r="3.5" fill="#231815" stroke="none" stroke-width="0"/>
<circle cx="891.2" cy="792" r="0.8" fill="#fff" stroke="none" stroke-width="0"/>
<circle cx="891" cy="799.4" r="3.5" fill="#231815" stroke="none" stroke-width="0"/>
<circle cx="891.2" cy="799.5" r="0.8" fill="#fff" stroke="none" stroke-width="0"/>
<circle cx="891" cy="806.8" r="3.5" fill="#231815" stroke="none" stroke-width="0"/>
<circle cx="891" cy="814.3" r="3.5" fill="#231815" stroke="none" stroke-width="0"/>
<circle cx="891.2" cy="814.4" r="0.8" fill="#fff" stroke="none" stroke-width="0"/>
<circle cx="891" cy="821.8" r="3.5" fill="#231815" stroke="none" stroke-width="0"/>
<circle cx="891" cy="829.3" r="3.5" fill="#231815" stroke="none" stroke-width="0"/>
<circle cx="891.2" cy="829.4" r="0.8" fill="#fff" stroke="none" stroke-width="0"/>
<circle cx="891" cy="836.8" r="3.5" fill="#231815" stroke="none" stroke-width="0"/>
<circle cx="891.2" cy="836.9" r="0.8" fill="#fff" stroke="none" stroke-width="0"/>
<circle cx="891" cy="844.2" r="3.5" fill="#231815" stroke="none" stroke-width="0"/>
<circle cx="891.2" cy="844.3" r="0.8" fill="#fff" stroke="none" stroke-width="0"/>
<circle cx="891" cy="851.7" r="3.5" fill="#231815" stroke="none" stroke-width="0"/>
<circle cx="891.2" cy="851.8" r="0.8" fill="#fff" stroke="none" stroke-width="0"/>
<polygon points="896.2,902 900,907 896.2,912 892.4,907" fill="#231815" stroke="none" stroke-width="0" stroke-linejoin="round"/>
<rect x="888" y="947.7" width="6.6" height="14.5" rx="3.3" fill="#fff" stroke="#231815" stroke-width="2.1"/>
<path d="M888.6,959.6 v-9 q3.4,1.5 4.2,8 q-1.6,2.6 -4.2,1 z" fill="#231815"/>
<rect x="888" y="966.4" width="6.6" height="15.5" rx="3.3" fill="#231815" stroke="#231815" stroke-width="2.1"/>
<rect x="888" y="986" width="6.6" height="14.5" rx="3.3" fill="#fff" stroke="#231815" stroke-width="2.1"/>
<line x1="889.4" y1="989.4" x2="889.4" y2="997.1" stroke="#231815" stroke-width="1.3" stroke-linecap="butt"/>
<rect x="888" y="1004.7" width="6.6" height="13.3" rx="3.3" fill="#fff" stroke="#231815" stroke-width="2.1"/>
<line x1="889.4" y1="1008.1" x2="889.4" y2="1014.6" stroke="#231815" stroke-width="1.3" stroke-linecap="butt"/>
<rect x="888" y="1022" width="6.6" height="14.7" rx="3.3" fill="#fff" stroke="#231815" stroke-width="2.1"/>
<line x1="889.4" y1="1025.4" x2="889.4" y2="1033.3" stroke="#231815" stroke-width="1.3" stroke-linecap="butt"/>
<polygon points="1149.5,383 1178.1,380 1178.1,662.1 1149.5,665.4" fill="#fff" stroke="none" stroke-width="0" stroke-linejoin="round"/>
<ellipse cx="1178.6" cy="398" rx="2.1" ry="3.4" fill="#231815" stroke="none" stroke-width="0"/>
<ellipse cx="1179.6" cy="415" rx="2.1" ry="3.4" fill="#231815" stroke="none" stroke-width="0"/>
<ellipse cx="1178.6" cy="584.5" rx="2.1" ry="3.4" fill="#231815" stroke="none" stroke-width="0"/>
<ellipse cx="1179.6" cy="601.5" rx="2.1" ry="3.4" fill="#231815" stroke="none" stroke-width="0"/>
<line x1="1178.8" y1="391" x2="1178.8" y2="423" stroke="#231815" stroke-width="1.6" stroke-linecap="butt"/>
<line x1="1178.8" y1="575" x2="1178.8" y2="609" stroke="#231815" stroke-width="1.6" stroke-linecap="butt"/>
<polygon points="1144.4,378.9 1148.1,376.6 1172.4,376.4 1177.7,380.8 1150.3,384.2" fill="#fff" stroke="#231815" stroke-width="2.5" stroke-linejoin="round"/>
<ellipse cx="1161.9" cy="377.9" rx="5.8" ry="3.4" fill="#231815" stroke="none" stroke-width="0"/>
<ellipse cx="1161.8" cy="369.4" rx="14.2" ry="7.5" fill="#231815" stroke="none" stroke-width="0"/>
<path d="M1153.5,366.2 Q1158.5,367.6 1164.5,370 Q1157.1,371.8 1153.5,366.2 Z" fill="#fff" stroke="#fff" stroke-width="0.6" stroke-linejoin="round" stroke-linecap="round"/>
<rect x="1156.3" y="372.8" width="2.2" height="2" fill="#fff"/>
<rect x="1165.3" y="372.8" width="2.2" height="2" fill="#fff"/>
<line x1="1150.5" y1="384" x2="1150.5" y2="664.4" stroke="#231815" stroke-width="2.8" stroke-linecap="butt"/>
<line x1="1154.2" y1="386.5" x2="1154.2" y2="664" stroke="#231815" stroke-width="2" stroke-linecap="butt"/>
<line x1="1176.9" y1="381" x2="1176.9" y2="661.1" stroke="#231815" stroke-width="3.3" stroke-linecap="butt"/>
<line x1="1153.5" y1="387.2" x2="1176.5" y2="384.3" stroke="#231815" stroke-width="2.5" stroke-linecap="butt"/>
<line x1="1149.9" y1="664.4" x2="1177.7" y2="661" stroke="#231815" stroke-width="2.6" stroke-linecap="round"/>
<circle cx="1160.2" cy="400.4" r="3.5" fill="#231815" stroke="none" stroke-width="0"/>
<circle cx="1160.2" cy="407.9" r="3.5" fill="#231815" stroke="none" stroke-width="0"/>
<circle cx="1160.4" cy="408" r="0.8" fill="#fff" stroke="none" stroke-width="0"/>
<circle cx="1160.2" cy="415.4" r="3.5" fill="#231815" stroke="none" stroke-width="0"/>
<circle cx="1160.4" cy="415.5" r="0.8" fill="#fff" stroke="none" stroke-width="0"/>
<circle cx="1160.2" cy="422.8" r="3.5" fill="#231815" stroke="none" stroke-width="0"/>
<circle cx="1160.2" cy="430.3" r="3.5" fill="#231815" stroke="none" stroke-width="0"/>
<circle cx="1160.4" cy="430.4" r="0.8" fill="#fff" stroke="none" stroke-width="0"/>
<circle cx="1160.2" cy="437.8" r="3.5" fill="#231815" stroke="none" stroke-width="0"/>
<circle cx="1160.2" cy="445.3" r="3.5" fill="#231815" stroke="none" stroke-width="0"/>
<circle cx="1160.4" cy="445.4" r="0.8" fill="#fff" stroke="none" stroke-width="0"/>
<circle cx="1160.2" cy="452.8" r="3.5" fill="#231815" stroke="none" stroke-width="0"/>
<circle cx="1160.4" cy="452.9" r="0.8" fill="#fff" stroke="none" stroke-width="0"/>
<circle cx="1160.2" cy="460.2" r="3.5" fill="#231815" stroke="none" stroke-width="0"/>
<circle cx="1160.4" cy="460.3" r="0.8" fill="#fff" stroke="none" stroke-width="0"/>
<circle cx="1160.2" cy="467.7" r="3.5" fill="#231815" stroke="none" stroke-width="0"/>
<circle cx="1160.4" cy="467.8" r="0.8" fill="#fff" stroke="none" stroke-width="0"/>
<polygon points="1165.4,518 1169.2,523 1165.4,528 1161.6,523" fill="#231815" stroke="none" stroke-width="0" stroke-linejoin="round"/>
<rect x="1157.2" y="563.7" width="6.6" height="14.5" rx="3.3" fill="#fff" stroke="#231815" stroke-width="2.1"/>
<path d="M1157.8,575.6 v-9 q3.4,1.5 4.2,8 q-1.6,2.6 -4.2,1 z" fill="#231815"/>
<rect x="1157.2" y="582.4" width="6.6" height="15.5" rx="3.3" fill="#231815" stroke="#231815" stroke-width="2.1"/>
<rect x="1157.2" y="602" width="6.6" height="14.5" rx="3.3" fill="#fff" stroke="#231815" stroke-width="2.1"/>
<line x1="1158.6" y1="605.4" x2="1158.6" y2="613.1" stroke="#231815" stroke-width="1.3" stroke-linecap="butt"/>
<rect x="1157.2" y="620.7" width="6.6" height="13.3" rx="3.3" fill="#fff" stroke="#231815" stroke-width="2.1"/>
<line x1="1158.6" y1="624.1" x2="1158.6" y2="630.6" stroke="#231815" stroke-width="1.3" stroke-linecap="butt"/>
<rect x="1157.2" y="638" width="6.6" height="14.7" rx="3.3" fill="#fff" stroke="#231815" stroke-width="2.1"/>
<line x1="1158.6" y1="641.4" x2="1158.6" y2="649.3" stroke="#231815" stroke-width="1.3" stroke-linecap="butt"/>
<polygon points="1149.5,734 1178.1,731 1178.1,1013.1 1149.5,1016.4" fill="#fff" stroke="none" stroke-width="0" stroke-linejoin="round"/>
<ellipse cx="1178.6" cy="749" rx="2.1" ry="3.4" fill="#231815" stroke="none" stroke-width="0"/>
<ellipse cx="1179.6" cy="766" rx="2.1" ry="3.4" fill="#231815" stroke="none" stroke-width="0"/>
<ellipse cx="1178.6" cy="935.5" rx="2.1" ry="3.4" fill="#231815" stroke="none" stroke-width="0"/>
<ellipse cx="1179.6" cy="952.5" rx="2.1" ry="3.4" fill="#231815" stroke="none" stroke-width="0"/>
<line x1="1178.8" y1="742" x2="1178.8" y2="774" stroke="#231815" stroke-width="1.6" stroke-linecap="butt"/>
<line x1="1178.8" y1="926" x2="1178.8" y2="960" stroke="#231815" stroke-width="1.6" stroke-linecap="butt"/>
<polygon points="1144.4,729.9 1148.1,727.6 1172.4,727.4 1177.7,731.8 1150.3,735.2" fill="#fff" stroke="#231815" stroke-width="2.5" stroke-linejoin="round"/>
<ellipse cx="1161.9" cy="728.9" rx="5.8" ry="3.4" fill="#231815" stroke="none" stroke-width="0"/>
<ellipse cx="1161.8" cy="720.4" rx="14.2" ry="7.5" fill="#231815" stroke="none" stroke-width="0"/>
<path d="M1153.5,717.2 Q1158.5,718.6 1164.5,721 Q1157.1,722.8 1153.5,717.2 Z" fill="#fff" stroke="#fff" stroke-width="0.6" stroke-linejoin="round" stroke-linecap="round"/>
<rect x="1156.3" y="723.8" width="2.2" height="2" fill="#fff"/>
<rect x="1165.3" y="723.8" width="2.2" height="2" fill="#fff"/>
<line x1="1150.5" y1="735" x2="1150.5" y2="1015.4" stroke="#231815" stroke-width="2.8" stroke-linecap="butt"/>
<line x1="1154.2" y1="737.5" x2="1154.2" y2="1015" stroke="#231815" stroke-width="2" stroke-linecap="butt"/>
<line x1="1176.9" y1="732" x2="1176.9" y2="1012.1" stroke="#231815" stroke-width="3.3" stroke-linecap="butt"/>
<line x1="1153.5" y1="738.2" x2="1176.5" y2="735.3" stroke="#231815" stroke-width="2.5" stroke-linecap="butt"/>
<line x1="1149.9" y1="1015.4" x2="1177.7" y2="1012" stroke="#231815" stroke-width="2.6" stroke-linecap="round"/>
<circle cx="1160.2" cy="751.4" r="3.5" fill="#231815" stroke="none" stroke-width="0"/>
<circle cx="1160.2" cy="758.9" r="3.5" fill="#231815" stroke="none" stroke-width="0"/>
<circle cx="1160.4" cy="759" r="0.8" fill="#fff" stroke="none" stroke-width="0"/>
<circle cx="1160.2" cy="766.4" r="3.5" fill="#231815" stroke="none" stroke-width="0"/>
<circle cx="1160.4" cy="766.5" r="0.8" fill="#fff" stroke="none" stroke-width="0"/>
<circle cx="1160.2" cy="773.8" r="3.5" fill="#231815" stroke="none" stroke-width="0"/>
<circle cx="1160.2" cy="781.3" r="3.5" fill="#231815" stroke="none" stroke-width="0"/>
<circle cx="1160.4" cy="781.4" r="0.8" fill="#fff" stroke="none" stroke-width="0"/>
<circle cx="1160.2" cy="788.8" r="3.5" fill="#231815" stroke="none" stroke-width="0"/>
<circle cx="1160.2" cy="796.3" r="3.5" fill="#231815" stroke="none" stroke-width="0"/>
<circle cx="1160.4" cy="796.4" r="0.8" fill="#fff" stroke="none" stroke-width="0"/>
<circle cx="1160.2" cy="803.8" r="3.5" fill="#231815" stroke="none" stroke-width="0"/>
<circle cx="1160.4" cy="803.9" r="0.8" fill="#fff" stroke="none" stroke-width="0"/>
<circle cx="1160.2" cy="811.2" r="3.5" fill="#231815" stroke="none" stroke-width="0"/>
<circle cx="1160.4" cy="811.3" r="0.8" fill="#fff" stroke="none" stroke-width="0"/>
<circle cx="1160.2" cy="818.7" r="3.5" fill="#231815" stroke="none" stroke-width="0"/>
<circle cx="1160.4" cy="818.8" r="0.8" fill="#fff" stroke="none" stroke-width="0"/>
<polygon points="1165.4,869 1169.2,874 1165.4,879 1161.6,874" fill="#231815" stroke="none" stroke-width="0" stroke-linejoin="round"/>
<rect x="1157.2" y="914.7" width="6.6" height="14.5" rx="3.3" fill="#fff" stroke="#231815" stroke-width="2.1"/>
<path d="M1157.8,926.6 v-9 q3.4,1.5 4.2,8 q-1.6,2.6 -4.2,1 z" fill="#231815"/>
<rect x="1157.2" y="933.4" width="6.6" height="15.5" rx="3.3" fill="#231815" stroke="#231815" stroke-width="2.1"/>
<rect x="1157.2" y="953" width="6.6" height="14.5" rx="3.3" fill="#fff" stroke="#231815" stroke-width="2.1"/>
<line x1="1158.6" y1="956.4" x2="1158.6" y2="964.1" stroke="#231815" stroke-width="1.3" stroke-linecap="butt"/>
<rect x="1157.2" y="971.7" width="6.6" height="13.3" rx="3.3" fill="#fff" stroke="#231815" stroke-width="2.1"/>
<line x1="1158.6" y1="975.1" x2="1158.6" y2="981.6" stroke="#231815" stroke-width="1.3" stroke-linecap="butt"/>
<rect x="1157.2" y="989" width="6.6" height="14.7" rx="3.3" fill="#fff" stroke="#231815" stroke-width="2.1"/>
<line x1="1158.6" y1="992.4" x2="1158.6" y2="1000.3" stroke="#231815" stroke-width="1.3" stroke-linecap="butt"/>
<polygon points="1518.7,336.5 1547.3,333.5 1547.3,615.6 1518.7,618.9" fill="#fff" stroke="none" stroke-width="0" stroke-linejoin="round"/>
<ellipse cx="1547.8" cy="351.5" rx="2.1" ry="3.4" fill="#231815" stroke="none" stroke-width="0"/>
<ellipse cx="1548.8" cy="368.5" rx="2.1" ry="3.4" fill="#231815" stroke="none" stroke-width="0"/>
<ellipse cx="1547.8" cy="538" rx="2.1" ry="3.4" fill="#231815" stroke="none" stroke-width="0"/>
<ellipse cx="1548.8" cy="555" rx="2.1" ry="3.4" fill="#231815" stroke="none" stroke-width="0"/>
<line x1="1548" y1="344.5" x2="1548" y2="376.5" stroke="#231815" stroke-width="1.6" stroke-linecap="butt"/>
<line x1="1548" y1="528.5" x2="1548" y2="562.5" stroke="#231815" stroke-width="1.6" stroke-linecap="butt"/>
<polygon points="1513.6,332.4 1517.3,330.1 1541.6,329.9 1546.9,334.3 1519.5,337.7" fill="#fff" stroke="#231815" stroke-width="2.5" stroke-linejoin="round"/>
<ellipse cx="1531.1" cy="331.4" rx="5.8" ry="3.4" fill="#231815" stroke="none" stroke-width="0"/>
<ellipse cx="1531" cy="322.9" rx="14.2" ry="7.5" fill="#231815" stroke="none" stroke-width="0"/>
<path d="M1522.7,319.7 Q1527.7,321.1 1533.7,323.5 Q1526.3,325.3 1522.7,319.7 Z" fill="#fff" stroke="#fff" stroke-width="0.6" stroke-linejoin="round" stroke-linecap="round"/>
<rect x="1525.5" y="326.3" width="2.2" height="2" fill="#fff"/>
<rect x="1534.5" y="326.3" width="2.2" height="2" fill="#fff"/>
<line x1="1519.7" y1="337.5" x2="1519.7" y2="617.9" stroke="#231815" stroke-width="2.8" stroke-linecap="butt"/>
<line x1="1523.4" y1="340" x2="1523.4" y2="617.5" stroke="#231815" stroke-width="2" stroke-linecap="butt"/>
<line x1="1546.1" y1="334.5" x2="1546.1" y2="614.6" stroke="#231815" stroke-width="3.3" stroke-linecap="butt"/>
<line x1="1522.7" y1="340.7" x2="1545.7" y2="337.8" stroke="#231815" stroke-width="2.5" stroke-linecap="butt"/>
<line x1="1519.1" y1="617.9" x2="1546.9" y2="614.5" stroke="#231815" stroke-width="2.6" stroke-linecap="round"/>
<circle cx="1529.4" cy="353.9" r="3.5" fill="#231815" stroke="none" stroke-width="0"/>
<circle cx="1529.4" cy="361.4" r="3.5" fill="#231815" stroke="none" stroke-width="0"/>
<circle cx="1529.6" cy="361.5" r="0.8" fill="#fff" stroke="none" stroke-width="0"/>
<circle cx="1529.4" cy="368.9" r="3.5" fill="#231815" stroke="none" stroke-width="0"/>
<circle cx="1529.6" cy="369" r="0.8" fill="#fff" stroke="none" stroke-width="0"/>
<circle cx="1529.4" cy="376.3" r="3.5" fill="#231815" stroke="none" stroke-width="0"/>
<circle cx="1529.4" cy="383.8" r="3.5" fill="#231815" stroke="none" stroke-width="0"/>
<circle cx="1529.6" cy="383.9" r="0.8" fill="#fff" stroke="none" stroke-width="0"/>
<circle cx="1529.4" cy="391.3" r="3.5" fill="#231815" stroke="none" stroke-width="0"/>
<circle cx="1529.4" cy="398.8" r="3.5" fill="#231815" stroke="none" stroke-width="0"/>
<circle cx="1529.6" cy="398.9" r="0.8" fill="#fff" stroke="none" stroke-width="0"/>
<circle cx="1529.4" cy="406.3" r="3.5" fill="#231815" stroke="none" stroke-width="0"/>
<circle cx="1529.6" cy="406.4" r="0.8" fill="#fff" stroke="none" stroke-width="0"/>
<circle cx="1529.4" cy="413.7" r="3.5" fill="#231815" stroke="none" stroke-width="0"/>
<circle cx="1529.6" cy="413.8" r="0.8" fill="#fff" stroke="none" stroke-width="0"/>
<circle cx="1529.4" cy="421.2" r="3.5" fill="#231815" stroke="none" stroke-width="0"/>
<circle cx="1529.6" cy="421.3" r="0.8" fill="#fff" stroke="none" stroke-width="0"/>
<polygon points="1534.6,471.5 1538.4,476.5 1534.6,481.5 1530.8,476.5" fill="#231815" stroke="none" stroke-width="0" stroke-linejoin="round"/>
<rect x="1526.4" y="517.2" width="6.6" height="14.5" rx="3.3" fill="#fff" stroke="#231815" stroke-width="2.1"/>
<path d="M1527,529.1 v-9 q3.4,1.5 4.2,8 q-1.6,2.6 -4.2,1 z" fill="#231815"/>
<rect x="1526.4" y="535.9" width="6.6" height="15.5" rx="3.3" fill="#231815" stroke="#231815" stroke-width="2.1"/>
<rect x="1526.4" y="555.5" width="6.6" height="14.5" rx="3.3" fill="#fff" stroke="#231815" stroke-width="2.1"/>
<line x1="1527.8" y1="558.9" x2="1527.8" y2="566.6" stroke="#231815" stroke-width="1.3" stroke-linecap="butt"/>
<rect x="1526.4" y="574.2" width="6.6" height="13.3" rx="3.3" fill="#fff" stroke="#231815" stroke-width="2.1"/>
<line x1="1527.8" y1="577.6" x2="1527.8" y2="584.1" stroke="#231815" stroke-width="1.3" stroke-linecap="butt"/>
<rect x="1526.4" y="591.5" width="6.6" height="14.7" rx="3.3" fill="#fff" stroke="#231815" stroke-width="2.1"/>
<line x1="1527.8" y1="594.9" x2="1527.8" y2="602.8" stroke="#231815" stroke-width="1.3" stroke-linecap="butt"/>
<polygon points="1518.7,687.5 1547.3,684.5 1547.3,966.6 1518.7,969.9" fill="#fff" stroke="none" stroke-width="0" stroke-linejoin="round"/>
<ellipse cx="1547.8" cy="702.5" rx="2.1" ry="3.4" fill="#231815" stroke="none" stroke-width="0"/>
<ellipse cx="1548.8" cy="719.5" rx="2.1" ry="3.4" fill="#231815" stroke="none" stroke-width="0"/>
<ellipse cx="1547.8" cy="889" rx="2.1" ry="3.4" fill="#231815" stroke="none" stroke-width="0"/>
<ellipse cx="1548.8" cy="906" rx="2.1" ry="3.4" fill="#231815" stroke="none" stroke-width="0"/>
<line x1="1548" y1="695.5" x2="1548" y2="727.5" stroke="#231815" stroke-width="1.6" stroke-linecap="butt"/>
<line x1="1548" y1="879.5" x2="1548" y2="913.5" stroke="#231815" stroke-width="1.6" stroke-linecap="butt"/>
<polygon points="1513.6,683.4 1517.3,681.1 1541.6,680.9 1546.9,685.3 1519.5,688.7" fill="#fff" stroke="#231815" stroke-width="2.5" stroke-linejoin="round"/>
<ellipse cx="1531.1" cy="682.4" rx="5.8" ry="3.4" fill="#231815" stroke="none" stroke-width="0"/>
<ellipse cx="1531" cy="673.9" rx="14.2" ry="7.5" fill="#231815" stroke="none" stroke-width="0"/>
<path d="M1522.7,670.7 Q1527.7,672.1 1533.7,674.5 Q1526.3,676.3 1522.7,670.7 Z" fill="#fff" stroke="#fff" stroke-width="0.6" stroke-linejoin="round" stroke-linecap="round"/>
<rect x="1525.5" y="677.3" width="2.2" height="2" fill="#fff"/>
<rect x="1534.5" y="677.3" width="2.2" height="2" fill="#fff"/>
<line x1="1519.7" y1="688.5" x2="1519.7" y2="968.9" stroke="#231815" stroke-width="2.8" stroke-linecap="butt"/>
<line x1="1523.4" y1="691" x2="1523.4" y2="968.5" stroke="#231815" stroke-width="2" stroke-linecap="butt"/>
<line x1="1546.1" y1="685.5" x2="1546.1" y2="965.6" stroke="#231815" stroke-width="3.3" stroke-linecap="butt"/>
<line x1="1522.7" y1="691.7" x2="1545.7" y2="688.8" stroke="#231815" stroke-width="2.5" stroke-linecap="butt"/>
<line x1="1519.1" y1="968.9" x2="1546.9" y2="965.5" stroke="#231815" stroke-width="2.6" stroke-linecap="round"/>
<circle cx="1529.4" cy="704.9" r="3.5" fill="#231815" stroke="none" stroke-width="0"/>
<circle cx="1529.4" cy="712.4" r="3.5" fill="#231815" stroke="none" stroke-width="0"/>
<circle cx="1529.6" cy="712.5" r="0.8" fill="#fff" stroke="none" stroke-width="0"/>
<circle cx="1529.4" cy="719.9" r="3.5" fill="#231815" stroke="none" stroke-width="0"/>
<circle cx="1529.6" cy="720" r="0.8" fill="#fff" stroke="none" stroke-width="0"/>
<circle cx="1529.4" cy="727.3" r="3.5" fill="#231815" stroke="none" stroke-width="0"/>
<circle cx="1529.4" cy="734.8" r="3.5" fill="#231815" stroke="none" stroke-width="0"/>
<circle cx="1529.6" cy="734.9" r="0.8" fill="#fff" stroke="none" stroke-width="0"/>
<circle cx="1529.4" cy="742.3" r="3.5" fill="#231815" stroke="none" stroke-width="0"/>
<circle cx="1529.4" cy="749.8" r="3.5" fill="#231815" stroke="none" stroke-width="0"/>
<circle cx="1529.6" cy="749.9" r="0.8" fill="#fff" stroke="none" stroke-width="0"/>
<circle cx="1529.4" cy="757.3" r="3.5" fill="#231815" stroke="none" stroke-width="0"/>
<circle cx="1529.6" cy="757.4" r="0.8" fill="#fff" stroke="none" stroke-width="0"/>
<circle cx="1529.4" cy="764.7" r="3.5" fill="#231815" stroke="none" stroke-width="0"/>
<circle cx="1529.6" cy="764.8" r="0.8" fill="#fff" stroke="none" stroke-width="0"/>
<circle cx="1529.4" cy="772.2" r="3.5" fill="#231815" stroke="none" stroke-width="0"/>
<circle cx="1529.6" cy="772.3" r="0.8" fill="#fff" stroke="none" stroke-width="0"/>
<polygon points="1534.6,822.5 1538.4,827.5 1534.6,832.5 1530.8,827.5" fill="#231815" stroke="none" stroke-width="0" stroke-linejoin="round"/>
<rect x="1526.4" y="868.2" width="6.6" height="14.5" rx="3.3" fill="#fff" stroke="#231815" stroke-width="2.1"/>
<path d="M1527,880.1 v-9 q3.4,1.5 4.2,8 q-1.6,2.6 -4.2,1 z" fill="#231815"/>
<rect x="1526.4" y="886.9" width="6.6" height="15.5" rx="3.3" fill="#231815" stroke="#231815" stroke-width="2.1"/>
<rect x="1526.4" y="906.5" width="6.6" height="14.5" rx="3.3" fill="#fff" stroke="#231815" stroke-width="2.1"/>
<line x1="1527.8" y1="909.9" x2="1527.8" y2="917.6" stroke="#231815" stroke-width="1.3" stroke-linecap="butt"/>
<rect x="1526.4" y="925.2" width="6.6" height="13.3" rx="3.3" fill="#fff" stroke="#231815" stroke-width="2.1"/>
<line x1="1527.8" y1="928.6" x2="1527.8" y2="935.1" stroke="#231815" stroke-width="1.3" stroke-linecap="butt"/>
<rect x="1526.4" y="942.5" width="6.6" height="14.7" rx="3.3" fill="#fff" stroke="#231815" stroke-width="2.1"/>
<line x1="1527.8" y1="945.9" x2="1527.8" y2="953.8" stroke="#231815" stroke-width="1.3" stroke-linecap="butt"/>
<line x1="1725.7" y1="740" x2="1725.7" y2="848" stroke="#000" stroke-width="2" stroke-linecap="butt"/>
<polygon points="1725.7,715.5 1730.7,745.5 1720.7,745.5" fill="#000" stroke="none" stroke-width="0" stroke-linejoin="round"/>
<polygon points="1725.7,872 1720.7,842 1730.7,842" fill="#000" stroke="none" stroke-width="0" stroke-linejoin="round"/>
<line x1="1300" y1="694.8" x2="1366" y2="761.9" stroke="#000" stroke-width="2.1" stroke-linecap="butt"/>
<polygon points="1286.2,680.8 1307.2,696.6 1301.6,702.1" fill="#000" stroke="none" stroke-width="0" stroke-linejoin="round"/>
<polygon points="1379.3,775.4 1358.3,759.6 1363.9,754.1" fill="#000" stroke="none" stroke-width="0" stroke-linejoin="round"/>
<path d="M1921.4,732.6 A62.4,62.4 0 0 1 1921.4,845.9" fill="none" stroke="#231815" stroke-width="1.6" stroke-linejoin="round" stroke-linecap="butt"/>
<polygon points="1919.5,731.6 1939.7,738.3 1936.4,744.6" fill="#000" stroke="none" stroke-width="0" stroke-linejoin="round"/>
<polygon points="1919.5,846.9 1936.4,833.9 1939.7,840.2" fill="#000" stroke="none" stroke-width="0" stroke-linejoin="round"/>
<g id="labels">
<text transform="translate(919.6,238.3) rotate(-7.3)" text-anchor="start" fill="#231815" textLength="149.5" lengthAdjust="spacingAndGlyphs"><tspan font-size="40">2009</tspan><tspan font-size="33.5" dx="3.8">ММ</tspan></text>
<text transform="translate(1229.5,282.5) rotate(45.6)" text-anchor="start" fill="#231815" textLength="123" lengthAdjust="spacingAndGlyphs"><tspan font-size="40">160</tspan><tspan font-size="33.5" dx="1">ММ</tspan></text>
<text transform="translate(1340.5,337.2) rotate(-11.5)" text-anchor="start" fill="#231815" textLength="103" lengthAdjust="spacingAndGlyphs"><tspan font-size="40">80</tspan><tspan font-size="33.5" dx="-0.6">ММ</tspan></text>
<text transform="translate(1588,323.6) rotate(44.8)" text-anchor="start" fill="#231815" textLength="104" lengthAdjust="spacingAndGlyphs"><tspan font-size="40">25</tspan><tspan font-size="33.5">ММ</tspan></text>
<text transform="translate(1776.1,509) rotate(-90)" text-anchor="start" fill="#231815" textLength="126.5" lengthAdjust="spacingAndGlyphs"><tspan font-size="40">120</tspan><tspan font-size="33.5" dx="2">ММ</tspan></text>
<text transform="translate(1302.2,679) rotate(44.6)" text-anchor="start" fill="#231815" textLength="103" lengthAdjust="spacingAndGlyphs"><tspan font-size="40">10</tspan><tspan font-size="33.5" dx="-1">ММ</tspan></text>
<text transform="translate(1712.7,847.8) rotate(-90)" text-anchor="start" fill="#231815" textLength="101.6" lengthAdjust="spacingAndGlyphs"><tspan font-size="42">20</tspan><tspan font-size="34.5" dx="1.5">ММ</tspan></text>
<text transform="translate(1834.7,859.9) rotate(-90)" text-anchor="start" fill="#231815" textLength="123.9" lengthAdjust="spacingAndGlyphs"><tspan font-size="41.5">472</tspan><tspan font-size="34.5">ММ</tspan></text>
<text transform="translate(1853.5,754.6) rotate(0)" text-anchor="start" fill="#231815" textLength="61.5" lengthAdjust="spacingAndGlyphs"><tspan font-size="41">+2°</tspan></text>
<text transform="translate(1857,854.3) rotate(0)" text-anchor="start" fill="#231815" textLength="51.5" lengthAdjust="spacingAndGlyphs"><tspan font-size="41">-2°</tspan></text>
<text transform="translate(1756.4,1331.4) rotate(-90)" text-anchor="start" fill="#231815" textLength="387.4" lengthAdjust="spacingAndGlyphs"><tspan font-size="33.5">МИН</tspan><tspan font-size="40" dx="-2">200</tspan><tspan font-size="40" dx="3">~</tspan><tspan font-size="33.5" dx="-2">МАКС</tspan><tspan font-size="40">400</tspan><tspan font-size="33.5" dx="-3">ММ</tspan></text>
<text transform="translate(1025,1178.5) rotate(-8)" text-anchor="start" fill="#231815" textLength="386.8" lengthAdjust="spacingAndGlyphs"><tspan font-size="33.5">МИН</tspan><tspan font-size="40" dx="1">200</tspan><tspan font-size="40" dx="4">~</tspan><tspan font-size="33.5">МАКС</tspan><tspan font-size="41.5" dx="2.5">600</tspan><tspan font-size="33.5" dx="4">ММ</tspan></text>
<text transform="translate(1212.8,1548.7) rotate(43.4)" text-anchor="start" fill="#231815" textLength="143" lengthAdjust="spacingAndGlyphs"><tspan font-size="40">1000</tspan><tspan font-size="33.5" dx="1">ММ</tspan></text>
<text transform="translate(1408.4,1648) rotate(-90)" text-anchor="start" fill="#231815" textLength="99.4" lengthAdjust="spacingAndGlyphs"><tspan font-size="40">50</tspan><tspan font-size="33.5">ММ</tspan></text>
<text transform="translate(1591.7,1602.3) rotate(-8.2)" text-anchor="start" fill="#231815" textLength="128.6" lengthAdjust="spacingAndGlyphs"><tspan font-size="40">100</tspan><tspan font-size="33.5" dx="7">ММ</tspan></text>
<text transform="translate(914.3,1852.6) rotate(-7)" text-anchor="start" fill="#231815" textLength="444.7" lengthAdjust="spacingAndGlyphs"><tspan font-size="33.5">МИН</tspan><tspan font-size="40" dx="-2">1300</tspan><tspan font-size="40" dx="0.5">~</tspan><tspan font-size="33.5" dx="1">МАКС</tspan><tspan font-size="41.5" dx="2">1600</tspan><tspan font-size="33.5" dx="2.5">ММ</tspan></text>
<text transform="translate(690.4,1839.8) rotate(-7)" text-anchor="start" fill="#231815" textLength="104" lengthAdjust="spacingAndGlyphs"><tspan font-size="40">80</tspan><tspan font-size="33.5" dx="2.5">ММ</tspan></text>
<text transform="translate(88.8,1129.7) rotate(-90)" text-anchor="start" fill="#231815" textLength="247.8" lengthAdjust="spacingAndGlyphs"><tspan font-size="33.5">МАКС</tspan><tspan font-size="40" dx="11">2050</tspan><tspan font-size="33.5" dx="0.7">ММ</tspan></text>
<text transform="translate(223.5,1101.8) rotate(-90)" text-anchor="start" fill="#231815" textLength="146.3" lengthAdjust="spacingAndGlyphs"><tspan font-size="41.5">1915</tspan><tspan font-size="34.5" dx="1.5">ММ</tspan></text>
<text transform="translate(336.3,1173.5) rotate(-90)" text-anchor="start" fill="#231815" textLength="249.7" lengthAdjust="spacingAndGlyphs"><tspan font-size="33.5">МАКС</tspan><tspan font-size="40" dx="4">1795</tspan><tspan font-size="33.5" dx="4">ММ</tspan></text>
</g>
<g id="wm">
<g fill="none" stroke="#c7cfe8" stroke-width="5.2" stroke-linecap="round" stroke-linejoin="round" opacity="0.9">
<path d="M808.6,984.8 L808.6,1022.9 L828.8,1039"/>
<path d="M852.6,915.7 L820.5,932.9"/>
<path d="M880,924 L831.2,951.4 L831.2,1015.7 L856.2,1030.5"/>
<path d="M893,949 L849,964.5 L849,1003.8 L862,1011.7"/>
<path d="M914.5,914.5 L957.4,938.3 L957.4,975.2"/>
<path d="M915.7,936 L936,951.4 L936,966.9"/>
</g>
<circle cx="808.6" cy="984.8" r="6.6" fill="#c7cfe8" stroke="none" stroke-width="0"/>
<circle cx="856.2" cy="1030.5" r="6.6" fill="#c7cfe8" stroke="none" stroke-width="0"/>
<circle cx="914.5" cy="914.5" r="6.6" fill="#c7cfe8" stroke="none" stroke-width="0"/>
<circle cx="893.5" cy="948.5" r="6.6" fill="#c7cfe8" stroke="none" stroke-width="0"/>
<g opacity="0.5"><text transform="translate(879.4,1027.6) scale(0.80,1)" font-size="80" font-weight="bold" fill="#8fcdea" stroke="#8fcdea" stroke-width="5" stroke-linejoin="miter" textLength="396" lengthAdjust="spacingAndGlyphs">Real-Shop</text></g>
<g opacity="0.62"><text transform="translate(1087.4,1088.8) scale(0.80,1)" font-size="53" font-weight="bold" fill="#a9b3d9" stroke="#a9b3d9" stroke-width="3.6" stroke-linejoin="miter" textLength="142" lengthAdjust="spacingAndGlyphs">.Tech</text></g>
</g>
</svg>
</body></html>
